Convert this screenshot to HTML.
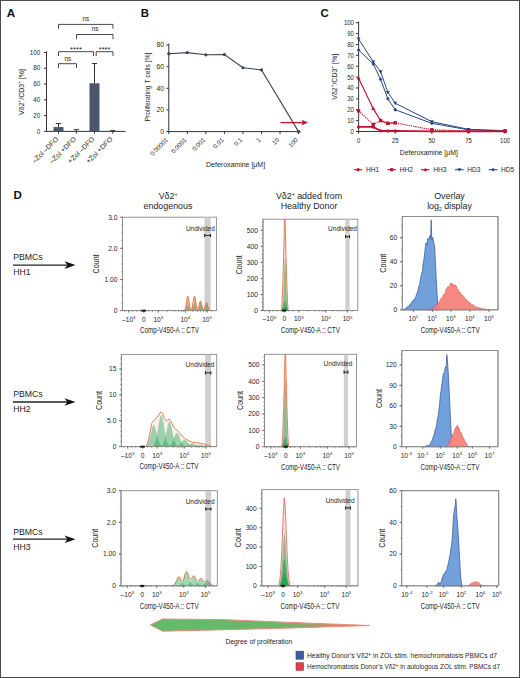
<!DOCTYPE html>
<html><head><meta charset="utf-8"><style>
html,body{margin:0;padding:0;background:#fff;}
svg{display:block;font-family:"Liberation Sans", sans-serif;}
</style></head><body>
<svg width="520" height="678" viewBox="0 0 520 678">
<rect x="0" y="0" width="520" height="678" fill="#fff"/>
<text x="6.7" y="16.6" font-size="11.6" text-anchor="start" fill="#111" font-weight="bold" >A</text>
<line x1="46.5" y1="51.5" x2="46.5" y2="131.9" stroke="#333" stroke-width="1" />
<line x1="46" y1="131.4" x2="125.5" y2="131.4" stroke="#333" stroke-width="1" />
<line x1="44" y1="131.4" x2="46.5" y2="131.4" stroke="#333" stroke-width="1" />
<text x="40.3" y="133.6" font-size="6.3" text-anchor="end" fill="#252525" font-weight="normal" >0</text>
<line x1="44" y1="115.62" x2="46.5" y2="115.62" stroke="#333" stroke-width="1" />
<text x="40.3" y="117.82" font-size="6.3" text-anchor="end" fill="#252525" font-weight="normal" >20</text>
<line x1="44" y1="99.84" x2="46.5" y2="99.84" stroke="#333" stroke-width="1" />
<text x="40.3" y="102.04" font-size="6.3" text-anchor="end" fill="#252525" font-weight="normal" >40</text>
<line x1="44" y1="84.06" x2="46.5" y2="84.06" stroke="#333" stroke-width="1" />
<text x="40.3" y="86.26" font-size="6.3" text-anchor="end" fill="#252525" font-weight="normal" >60</text>
<line x1="44" y1="68.28" x2="46.5" y2="68.28" stroke="#333" stroke-width="1" />
<text x="40.3" y="70.48" font-size="6.3" text-anchor="end" fill="#252525" font-weight="normal" >80</text>
<line x1="44" y1="52.5" x2="46.5" y2="52.5" stroke="#333" stroke-width="1" />
<text x="40.3" y="54.7" font-size="6.3" text-anchor="end" fill="#252525" font-weight="normal" >100</text>
<rect x="53.5" y="127.06" width="10" height="4.34" fill="#4a5669"/>
<line x1="58.5" y1="127.06" x2="58.5" y2="123.51" stroke="#2a3345" stroke-width="1" />
<line x1="55.9" y1="123.51" x2="61.1" y2="123.51" stroke="#2a3345" stroke-width="1" />
<line x1="58.5" y1="131.4" x2="58.5" y2="133.7" stroke="#333" stroke-width="1" />
<rect x="71.3" y="130.93" width="10" height="0.47" fill="#4a5669"/>
<line x1="76.3" y1="130.93" x2="76.3" y2="129.66" stroke="#2a3345" stroke-width="1" />
<line x1="73.7" y1="129.66" x2="78.9" y2="129.66" stroke="#2a3345" stroke-width="1" />
<line x1="76.3" y1="131.4" x2="76.3" y2="133.7" stroke="#333" stroke-width="1" />
<rect x="89.5" y="83.27" width="10" height="48.13" fill="#4a5669"/>
<line x1="94.5" y1="83.27" x2="94.5" y2="63.55" stroke="#2a3345" stroke-width="1" />
<line x1="91.9" y1="63.55" x2="97.1" y2="63.55" stroke="#2a3345" stroke-width="1" />
<line x1="94.5" y1="131.4" x2="94.5" y2="133.7" stroke="#333" stroke-width="1" />
<rect x="107.8" y="131.16" width="10" height="0.24" fill="#4a5669"/>
<line x1="112.8" y1="131.16" x2="112.8" y2="130.61" stroke="#2a3345" stroke-width="1" />
<line x1="110.2" y1="130.61" x2="115.4" y2="130.61" stroke="#2a3345" stroke-width="1" />
<line x1="112.8" y1="131.4" x2="112.8" y2="133.7" stroke="#333" stroke-width="1" />
<polyline points="58.5,28.7 58.5,24.4 113,24.4 113,28.7" fill="none" stroke="#333" stroke-width="0.9"/>
<text x="85.8" y="21" font-size="6.3" text-anchor="middle" fill="#252525" font-weight="normal" >ns</text>
<polyline points="76.5,39.3 76.5,34.5 113,34.5 113,39.3" fill="none" stroke="#333" stroke-width="0.9"/>
<text x="95" y="31.1" font-size="6.3" text-anchor="middle" fill="#252525" font-weight="normal" >ns</text>
<polyline points="58.5,56 58.5,51.7 93.6,51.7 93.6,56" fill="none" stroke="#333" stroke-width="0.9"/>
<text x="76" y="52.4" font-size="7.6" text-anchor="middle" fill="#252525" font-weight="normal" >****</text>
<polyline points="96.2,56 96.2,51.7 113,51.7 113,56" fill="none" stroke="#333" stroke-width="0.9"/>
<text x="104.6" y="52.4" font-size="7.6" text-anchor="middle" fill="#252525" font-weight="normal" >****</text>
<polyline points="58.5,68 58.5,63.7 76.5,63.7 76.5,68" fill="none" stroke="#333" stroke-width="0.9"/>
<text x="67.8" y="61.3" font-size="6.3" text-anchor="middle" fill="#252525" font-weight="normal" >ns</text>
<text transform="translate(23.8,92) rotate(-90)" font-size="7" text-anchor="middle" fill="#252525">Vδ2<tspan font-size="4.5" dy="-2.5">+</tspan><tspan dy="2.5">/CD3</tspan><tspan font-size="4.5" dy="-2.5">+</tspan><tspan dy="2.5"> [%]</tspan></text>
<text transform="translate(58.9,139.6) rotate(-45)" font-size="7.0" text-anchor="end" fill="#252525">–Zol –DFO</text>
<text transform="translate(76.7,139.6) rotate(-45)" font-size="7.0" text-anchor="end" fill="#252525">–Zol +DFO</text>
<text transform="translate(94.9,139.6) rotate(-45)" font-size="7.0" text-anchor="end" fill="#252525">+Zol –DFO</text>
<text transform="translate(113.2,139.6) rotate(-45)" font-size="7.0" text-anchor="end" fill="#252525">+Zol +DFO</text>
<text x="140.8" y="16.8" font-size="11.4" text-anchor="start" fill="#111" font-weight="bold" >B</text>
<line x1="168.8" y1="43.5" x2="168.8" y2="132.1" stroke="#333" stroke-width="1" />
<line x1="168.3" y1="131.6" x2="300.6" y2="131.6" stroke="#333" stroke-width="1" />
<line x1="166.3" y1="131.6" x2="168.8" y2="131.6" stroke="#333" stroke-width="1" />
<text x="164" y="133.9" font-size="6.8" text-anchor="end" fill="#252525" font-weight="normal" >0</text>
<line x1="166.3" y1="109.96" x2="168.8" y2="109.96" stroke="#333" stroke-width="1" />
<text x="164" y="112.26" font-size="6.8" text-anchor="end" fill="#252525" font-weight="normal" >20</text>
<line x1="166.3" y1="88.32" x2="168.8" y2="88.32" stroke="#333" stroke-width="1" />
<text x="164" y="90.62" font-size="6.8" text-anchor="end" fill="#252525" font-weight="normal" >40</text>
<line x1="166.3" y1="66.68" x2="168.8" y2="66.68" stroke="#333" stroke-width="1" />
<text x="164" y="68.98" font-size="6.8" text-anchor="end" fill="#252525" font-weight="normal" >60</text>
<line x1="166.3" y1="45.04" x2="168.8" y2="45.04" stroke="#333" stroke-width="1" />
<text x="164" y="47.34" font-size="6.8" text-anchor="end" fill="#252525" font-weight="normal" >80</text>
<line x1="168.8" y1="131.6" x2="168.8" y2="134.1" stroke="#333" stroke-width="1" />
<line x1="187.34" y1="131.6" x2="187.34" y2="134.1" stroke="#333" stroke-width="1" />
<line x1="205.88" y1="131.6" x2="205.88" y2="134.1" stroke="#333" stroke-width="1" />
<line x1="224.42" y1="131.6" x2="224.42" y2="134.1" stroke="#333" stroke-width="1" />
<line x1="242.96" y1="131.6" x2="242.96" y2="134.1" stroke="#333" stroke-width="1" />
<line x1="261.5" y1="131.6" x2="261.5" y2="134.1" stroke="#333" stroke-width="1" />
<line x1="280.04" y1="131.6" x2="280.04" y2="134.1" stroke="#333" stroke-width="1" />
<line x1="298.58" y1="131.6" x2="298.58" y2="134.1" stroke="#333" stroke-width="1" />
<text transform="translate(168.5,140.4) rotate(-45)" font-size="6.2" text-anchor="end" fill="#252525">0.00001</text>
<text transform="translate(187.04,140.4) rotate(-45)" font-size="6.2" text-anchor="end" fill="#252525">0.0001</text>
<text transform="translate(205.58,140.4) rotate(-45)" font-size="6.2" text-anchor="end" fill="#252525">0.001</text>
<text transform="translate(224.12,140.4) rotate(-45)" font-size="6.2" text-anchor="end" fill="#252525">0.01</text>
<text transform="translate(242.66,140.4) rotate(-45)" font-size="6.2" text-anchor="end" fill="#252525">0.1</text>
<text transform="translate(261.2,140.4) rotate(-45)" font-size="6.2" text-anchor="end" fill="#252525">1</text>
<text transform="translate(279.74,140.4) rotate(-45)" font-size="6.2" text-anchor="end" fill="#252525">10</text>
<text transform="translate(298.28,140.4) rotate(-45)" font-size="6.2" text-anchor="end" fill="#252525">100</text>
<polyline points="168.8,53.7 187.34,52.61 205.88,54.78 224.42,54.56 242.96,67.76 261.5,69.93 298.58,131.6" fill="none" stroke="#3a4455" stroke-width="1.1"/>
<circle cx="168.8" cy="53.7" r="1.6" fill="#3a4455"/>
<circle cx="187.34" cy="52.61" r="1.6" fill="#3a4455"/>
<circle cx="205.88" cy="54.78" r="1.6" fill="#3a4455"/>
<circle cx="224.42" cy="54.56" r="1.6" fill="#3a4455"/>
<circle cx="242.96" cy="67.76" r="1.6" fill="#3a4455"/>
<circle cx="261.5" cy="69.93" r="1.6" fill="#3a4455"/>
<circle cx="298.58" cy="131.6" r="1.6" fill="#3a4455"/>
<line x1="280.5" y1="122.6" x2="303.5" y2="122.6" stroke="#c0162c" stroke-width="1.3" />
<polygon points="308,122.6 301.5,119.8 303,122.6 301.5,125.4" fill="#c0162c"/>
<text x="235.6" y="167" font-size="7" text-anchor="middle" fill="#252525" textLength="59" lengthAdjust="spacingAndGlyphs">Deferoxamine [μM]</text>
<text transform="translate(149.5,87) rotate(-90)" font-size="6.4" text-anchor="middle" fill="#252525" textLength="69" lengthAdjust="spacingAndGlyphs">Proliferating T cells [%]</text>
<text x="320.4" y="16.9" font-size="11.4" text-anchor="start" fill="#111" font-weight="bold" >C</text>
<line x1="358.6" y1="21.5" x2="358.6" y2="132" stroke="#4a4a4a" stroke-width="1.1" />
<line x1="358.1" y1="131.5" x2="505.8" y2="131.5" stroke="#3a3a3a" stroke-width="1.2" />
<line x1="356" y1="131.5" x2="358.6" y2="131.5" stroke="#333" stroke-width="1" />
<text x="353.8" y="133.9" font-size="6.9" text-anchor="end" fill="#252525" textLength="3.3" lengthAdjust="spacingAndGlyphs">0</text>
<line x1="356" y1="120.62" x2="358.6" y2="120.62" stroke="#333" stroke-width="1" />
<text x="353.8" y="123.02" font-size="6.9" text-anchor="end" fill="#252525" textLength="6.6" lengthAdjust="spacingAndGlyphs">10</text>
<line x1="356" y1="109.74" x2="358.6" y2="109.74" stroke="#333" stroke-width="1" />
<text x="353.8" y="112.14" font-size="6.9" text-anchor="end" fill="#252525" textLength="6.6" lengthAdjust="spacingAndGlyphs">20</text>
<line x1="356" y1="98.86" x2="358.6" y2="98.86" stroke="#333" stroke-width="1" />
<text x="353.8" y="101.26" font-size="6.9" text-anchor="end" fill="#252525" textLength="6.6" lengthAdjust="spacingAndGlyphs">30</text>
<line x1="356" y1="87.98" x2="358.6" y2="87.98" stroke="#333" stroke-width="1" />
<text x="353.8" y="90.38" font-size="6.9" text-anchor="end" fill="#252525" textLength="6.6" lengthAdjust="spacingAndGlyphs">40</text>
<line x1="356" y1="77.1" x2="358.6" y2="77.1" stroke="#333" stroke-width="1" />
<text x="353.8" y="79.5" font-size="6.9" text-anchor="end" fill="#252525" textLength="6.6" lengthAdjust="spacingAndGlyphs">50</text>
<line x1="356" y1="66.22" x2="358.6" y2="66.22" stroke="#333" stroke-width="1" />
<text x="353.8" y="68.62" font-size="6.9" text-anchor="end" fill="#252525" textLength="6.6" lengthAdjust="spacingAndGlyphs">60</text>
<line x1="356" y1="55.34" x2="358.6" y2="55.34" stroke="#333" stroke-width="1" />
<text x="353.8" y="57.74" font-size="6.9" text-anchor="end" fill="#252525" textLength="6.6" lengthAdjust="spacingAndGlyphs">70</text>
<line x1="356" y1="44.46" x2="358.6" y2="44.46" stroke="#333" stroke-width="1" />
<text x="353.8" y="46.86" font-size="6.9" text-anchor="end" fill="#252525" textLength="6.6" lengthAdjust="spacingAndGlyphs">80</text>
<line x1="356" y1="33.58" x2="358.6" y2="33.58" stroke="#333" stroke-width="1" />
<text x="353.8" y="35.98" font-size="6.9" text-anchor="end" fill="#252525" textLength="6.6" lengthAdjust="spacingAndGlyphs">90</text>
<line x1="356" y1="22.7" x2="358.6" y2="22.7" stroke="#333" stroke-width="1" />
<text x="353.8" y="25.1" font-size="6.9" text-anchor="end" fill="#252525" textLength="9.9" lengthAdjust="spacingAndGlyphs">100</text>
<line x1="358.6" y1="131.5" x2="358.6" y2="133.7" stroke="#333" stroke-width="1" />
<text x="358.6" y="143.4" font-size="6.9" text-anchor="middle" fill="#252525" textLength="3.3" lengthAdjust="spacingAndGlyphs">0</text>
<line x1="395.21" y1="131.5" x2="395.21" y2="133.7" stroke="#333" stroke-width="1" />
<text x="395.21" y="143.4" font-size="6.9" text-anchor="middle" fill="#252525" textLength="6.6" lengthAdjust="spacingAndGlyphs">25</text>
<line x1="431.83" y1="131.5" x2="431.83" y2="133.7" stroke="#333" stroke-width="1" />
<text x="431.83" y="143.4" font-size="6.9" text-anchor="middle" fill="#252525" textLength="6.6" lengthAdjust="spacingAndGlyphs">50</text>
<line x1="468.44" y1="131.5" x2="468.44" y2="133.7" stroke="#333" stroke-width="1" />
<text x="468.44" y="143.4" font-size="6.9" text-anchor="middle" fill="#252525" textLength="6.6" lengthAdjust="spacingAndGlyphs">75</text>
<line x1="505.05" y1="131.5" x2="505.05" y2="133.7" stroke="#333" stroke-width="1" />
<text x="505.05" y="143.4" font-size="6.9" text-anchor="middle" fill="#252525" textLength="9.9" lengthAdjust="spacingAndGlyphs">100</text>
<text x="428.8" y="155" font-size="7" text-anchor="middle" fill="#252525" textLength="58" lengthAdjust="spacingAndGlyphs">Deferoxamine [μM]</text>
<text transform="translate(336.8,76.8) rotate(-90)" font-size="7" text-anchor="middle" fill="#252525" textLength="46" lengthAdjust="spacingAndGlyphs">Vδ2<tspan font-size="4.5" dy="-2.5">+</tspan><tspan dy="2.5">/CD3</tspan><tspan font-size="4.5" dy="-2.5">+</tspan><tspan dy="2.5"> [%]</tspan></text>
<polyline points="358.6,39.02 373.25,61.87 380.57,71.66 387.89,92.33 395.21,103.21 431.83,121.71 468.44,129.32 505.05,130.63" fill="none" stroke="#27497e" stroke-width="1.0" />
<polygon points="358.6,41.12 360.6,37.62 356.6,37.62" fill="#27497e"/>
<polygon points="373.25,63.97 375.25,60.47 371.25,60.47" fill="#27497e"/>
<polygon points="380.57,73.76 382.57,70.26 378.57,70.26" fill="#27497e"/>
<polygon points="387.89,94.43 389.89,90.93 385.89,90.93" fill="#27497e"/>
<polygon points="395.21,105.31 397.21,101.81 393.21,101.81" fill="#27497e"/>
<polygon points="431.83,123.81 433.83,120.31 429.83,120.31" fill="#27497e"/>
<polygon points="468.44,131.42 470.44,127.92 466.44,127.92" fill="#27497e"/>
<polygon points="505.05,132.73 507.05,129.23 503.05,129.23" fill="#27497e"/>
<polyline points="358.6,49.9 373.25,64.04 380.57,79.28 387.89,98.86 395.21,109.74 431.83,123.34 468.44,129.87 505.05,130.96" fill="none" stroke="#27497e" stroke-width="1.0" />
<polygon points="358.6,47.9 360.4,49.9 358.6,51.9 356.8,49.9" fill="#27497e"/>
<polygon points="373.25,62.04 375.05,64.04 373.25,66.04 371.44,64.04" fill="#27497e"/>
<polygon points="380.57,77.28 382.37,79.28 380.57,81.28 378.77,79.28" fill="#27497e"/>
<polygon points="387.89,96.86 389.69,98.86 387.89,100.86 386.09,98.86" fill="#27497e"/>
<polygon points="395.21,107.74 397.01,109.74 395.21,111.74 393.41,109.74" fill="#27497e"/>
<polygon points="431.83,121.34 433.63,123.34 431.83,125.34 430.03,123.34" fill="#27497e"/>
<polygon points="468.44,127.87 470.24,129.87 468.44,131.87 466.64,129.87" fill="#27497e"/>
<polygon points="505.05,128.96 506.85,130.96 505.05,132.96 503.25,130.96" fill="#27497e"/>
<polyline points="358.6,78.19 373.25,108.65 380.57,120.62 387.89,123.34 395.21,122.8" fill="none" stroke="#c41230" stroke-width="1.15" />
<polygon points="358.6,76.09 360.6,79.59 356.6,79.59" fill="#c41230"/>
<polygon points="373.25,106.55 375.25,110.05 371.25,110.05" fill="#c41230"/>
<polygon points="380.57,118.52 382.57,122.02 378.57,122.02" fill="#c41230"/>
<polygon points="387.89,121.24 389.89,124.74 385.89,124.74" fill="#c41230"/>
<polygon points="395.21,120.7 397.21,124.2 393.21,124.2" fill="#c41230"/>
<polyline points="358.6,110.83 373.25,124.43 380.57,120.62 387.89,123.34 395.21,122.8 431.83,129.76 468.44,130.96 505.05,131.28" fill="none" stroke="#c41230" stroke-width="1.15" stroke-dasharray="1.3,0.9"/>
<rect x="356.9" y="109.13" width="3.4" height="3.4" fill="#c41230"/>
<rect x="371.55" y="122.73" width="3.4" height="3.4" fill="#c41230"/>
<rect x="378.87" y="118.92" width="3.4" height="3.4" fill="#c41230"/>
<rect x="386.19" y="121.64" width="3.4" height="3.4" fill="#c41230"/>
<rect x="393.51" y="121.1" width="3.4" height="3.4" fill="#c41230"/>
<rect x="430.13" y="128.06" width="3.4" height="3.4" fill="#c41230"/>
<rect x="466.74" y="129.26" width="3.4" height="3.4" fill="#c41230"/>
<rect x="503.35" y="129.58" width="3.4" height="3.4" fill="#c41230"/>
<polyline points="358.6,126.93 373.25,126.93 380.57,130.85 387.89,130.96 395.21,130.96 431.83,131.28 468.44,131.39 505.05,131.39" fill="none" stroke="#c41230" stroke-width="1.7" />
<circle cx="358.6" cy="126.93" r="1.7" fill="#c41230"/>
<circle cx="373.25" cy="126.93" r="1.7" fill="#c41230"/>
<circle cx="380.57" cy="130.85" r="1.7" fill="#c41230"/>
<circle cx="387.89" cy="130.96" r="1.7" fill="#c41230"/>
<circle cx="395.21" cy="130.96" r="1.7" fill="#c41230"/>
<circle cx="431.83" cy="131.28" r="1.7" fill="#c41230"/>
<circle cx="468.44" cy="131.39" r="1.7" fill="#c41230"/>
<circle cx="505.05" cy="131.39" r="1.7" fill="#c41230"/>
<line x1="353.8" y1="169.7" x2="362.4" y2="169.7" stroke="#c41230" stroke-width="1.1" />
<circle cx="358.1" cy="169.7" r="1.61" fill="#c41230"/>
<text x="366.1" y="172" font-size="6.6" text-anchor="start" fill="#252525" font-weight="normal" >HH1</text>
<line x1="387.4" y1="169.7" x2="396" y2="169.7" stroke="#c41230" stroke-width="1.1" />
<rect x="390.08" y="168.08" width="3.23" height="3.23" fill="#c41230"/>
<text x="399.7" y="172" font-size="6.6" text-anchor="start" fill="#252525" font-weight="normal" >HH2</text>
<line x1="421" y1="169.7" x2="429.6" y2="169.7" stroke="#c41230" stroke-width="1.1" />
<polygon points="425.3,167.7 427.2,171.03 423.4,171.03" fill="#c41230"/>
<text x="433.3" y="172" font-size="6.6" text-anchor="start" fill="#252525" font-weight="normal" >HH3</text>
<line x1="455" y1="169.7" x2="463.6" y2="169.7" stroke="#27497e" stroke-width="1.1" />
<polygon points="459.3,171.69 461.2,168.37 457.4,168.37" fill="#27497e"/>
<text x="467.3" y="172" font-size="6.6" text-anchor="start" fill="#252525" font-weight="normal" >HD3</text>
<line x1="488.8" y1="169.7" x2="497.4" y2="169.7" stroke="#27497e" stroke-width="1.1" />
<polygon points="493.1,167.8 494.81,169.7 493.1,171.6 491.39,169.7" fill="#27497e"/>
<text x="501.1" y="172" font-size="6.6" text-anchor="start" fill="#252525" font-weight="normal" >HD5</text>
<text x="13.5" y="199.3" font-size="11.6" text-anchor="start" fill="#111" font-weight="bold" >D</text>
<text x="168" y="198.6" font-size="8.9" text-anchor="middle" fill="#252525">Vδ2<tspan font-size="5" dy="-3">+</tspan></text>
<text x="168" y="209.3" font-size="8.9" text-anchor="middle" fill="#252525">endogenous</text>
<text x="309" y="198.6" font-size="8.9" text-anchor="middle" fill="#252525">Vδ2<tspan font-size="5" dy="-3">+</tspan><tspan dy="3"> added from</tspan></text>
<text x="309" y="209.3" font-size="8.9" text-anchor="middle" fill="#252525">Healthy Donor</text>
<text x="449.5" y="198.6" font-size="8.9" text-anchor="middle" fill="#252525">Overlay</text>
<text x="449.5" y="209.3" font-size="8.9" text-anchor="middle" fill="#252525">log<tspan font-size="5" dy="2">2</tspan><tspan dy="-2"> display</tspan></text>
<text x="13.2" y="259.9" font-size="8.7" fill="#252525">PBMCs</text>
<text x="13.2" y="275" font-size="8.7" fill="#252525">HH1</text>
<line x1="13" y1="265.1" x2="68" y2="265.1" stroke="#222" stroke-width="1.3" />
<polygon points="75.5,265.1 64.5,261.3 67.5,265.1 64.5,268.9" fill="#111"/>
<text x="13.2" y="396.8" font-size="8.7" fill="#252525">PBMCs</text>
<text x="13.2" y="412" font-size="8.7" fill="#252525">HH2</text>
<line x1="13" y1="402" x2="68" y2="402" stroke="#222" stroke-width="1.3" />
<polygon points="75.5,402 64.5,398.2 67.5,402 64.5,405.8" fill="#111"/>
<text x="13.2" y="534.6" font-size="8.7" fill="#252525">PBMCs</text>
<text x="13.2" y="549.6" font-size="8.7" fill="#252525">HH3</text>
<line x1="13" y1="539.2" x2="68" y2="539.2" stroke="#222" stroke-width="1.3" />
<polygon points="75.5,539.2 64.5,535.4 67.5,539.2 64.5,543" fill="#111"/>
<rect x="122.5" y="217.2" width="93.9" height="93.4" fill="#fff" stroke="#8a8a8a" stroke-width="0.9"/>
<rect x="204.5" y="217.65" width="6.2" height="92.5" fill="#cfcfcf"/>
<path d="M183.4,310.6 L183.4,310.55 L183.7,310.5 L184,310.4 L184.3,310.22 L184.6,309.9 L184.9,309.4 L185.2,308.65 L185.5,307.59 L185.8,306.19 L186.1,304.48 L186.4,302.54 L186.7,300.53 L187,298.68 L187.3,297.23 L187.6,296.37 L187.9,296.24 L188.2,296.87 L188.5,298.14 L188.8,299.89 L189.1,301.86 L189.4,303.84 L189.7,305.64 L190,307.12 L190.3,308.26 L190.6,309.02 L190.9,309.45 L191.2,309.55 L191.5,309.34 L191.8,308.8 L192.1,307.9 L192.4,306.64 L192.7,305.03 L193,303.14 L193.3,301.13 L193.6,299.19 L193.9,297.56 L194.2,296.48 L194.5,296.1 L194.8,296.48 L195.1,297.56 L195.4,299.19 L195.7,301.12 L196,303.12 L196.3,304.99 L196.6,306.56 L196.9,307.75 L197.2,308.54 L197.5,308.92 L197.8,308.91 L198.1,308.54 L198.4,307.83 L198.7,306.84 L199,305.63 L199.3,304.31 L199.6,303.04 L199.9,301.97 L200.2,301.25 L200.5,301 L200.8,301.25 L201.1,301.97 L201.4,303.04 L201.7,304.32 L202,305.65 L202.3,306.89 L202.6,307.93 L202.9,308.72 L203.2,309.23 L203.5,309.47 L203.8,309.44 L204.1,309.15 L204.4,308.61 L204.7,307.83 L205,306.87 L205.3,305.8 L205.6,304.72 L205.9,303.76 L206.2,303.06 L206.5,302.72 L206.8,302.79 L207.1,303.26 L207.4,304.06 L207.7,305.08 L208,306.18 L208.3,307.24 L208.6,308.18 L208.9,308.95 L209.2,309.53 L209.5,309.94 L209.8,310.22 L210.1,310.39 L210.4,310.49 L210.7,310.55 L211,310.57 L211,310.6 Z" fill="#eba48a" fill-opacity="0.85"/>
<path d="M183.3,310.6 L183.3,310.59 L183.65,310.58 L184,310.55 L184.35,310.48 L184.7,310.35 L185.05,310.11 L185.4,309.73 L185.75,309.17 L186.1,308.42 L186.45,307.53 L186.8,306.61 L187.15,305.8 L187.5,305.26 L187.85,305.1 L188.2,305.37 L188.55,306.01 L188.9,306.87 L189.25,307.79 L189.6,308.65 L189.95,309.35 L190.3,309.86 L190.65,310.19 L191,310.39 L191.35,310.5 L191.7,310.56 L192.05,310.58 L192.05,310.6 Z" fill="#00973c" fill-opacity="0.37"/>
<path d="M190,310.6 L190,310.59 L190.35,310.57 L190.7,310.53 L191.05,310.44 L191.4,310.28 L191.75,309.98 L192.1,309.49 L192.45,308.78 L192.8,307.82 L193.15,306.69 L193.5,305.52 L193.85,304.49 L194.2,303.8 L194.55,303.61 L194.9,303.95 L195.25,304.75 L195.6,305.85 L195.95,307.03 L196.3,308.12 L196.65,309.01 L197,309.65 L197.35,310.08 L197.7,310.34 L198.05,310.48 L198.4,310.55 L198.75,310.58 L198.75,310.6 Z" fill="#00973c" fill-opacity="0.37"/>
<path d="M196,310.6 L196,310.59 L196.35,310.57 L196.7,310.54 L197.05,310.46 L197.4,310.3 L197.75,310.02 L198.1,309.57 L198.45,308.91 L198.8,308.02 L199.15,306.97 L199.5,305.88 L199.85,304.92 L200.2,304.28 L200.55,304.11 L200.9,304.42 L201.25,305.17 L201.6,306.19 L201.95,307.28 L202.3,308.3 L202.65,309.12 L203,309.72 L203.35,310.12 L203.7,310.35 L204.05,310.48 L204.4,310.55 L204.75,310.58 L204.75,310.6 Z" fill="#00973c" fill-opacity="0.37"/>
<path d="M202.1,310.6 L202.1,310.59 L202.45,310.58 L202.8,310.54 L203.15,310.47 L203.5,310.33 L203.85,310.08 L204.2,309.68 L204.55,309.09 L204.9,308.3 L205.25,307.36 L205.6,306.39 L205.95,305.53 L206.3,304.96 L206.65,304.8 L207,305.09 L207.35,305.76 L207.7,306.66 L208.05,307.64 L208.4,308.54 L208.75,309.28 L209.1,309.82 L209.45,310.17 L209.8,310.38 L210.15,310.5 L210.5,310.56 L210.85,310.58 L210.85,310.6 Z" fill="#00973c" fill-opacity="0.37"/>
<path d="M183.4,310.55 L183.7,310.5 L184,310.4 L184.3,310.22 L184.6,309.9 L184.9,309.4 L185.2,308.65 L185.5,307.59 L185.8,306.19 L186.1,304.48 L186.4,302.54 L186.7,300.53 L187,298.68 L187.3,297.23 L187.6,296.37 L187.9,296.24 L188.2,296.87 L188.5,298.14 L188.8,299.89 L189.1,301.86 L189.4,303.84 L189.7,305.64 L190,307.12 L190.3,308.26 L190.6,309.02 L190.9,309.45 L191.2,309.55 L191.5,309.34 L191.8,308.8 L192.1,307.9 L192.4,306.64 L192.7,305.03 L193,303.14 L193.3,301.13 L193.6,299.19 L193.9,297.56 L194.2,296.48 L194.5,296.1 L194.8,296.48 L195.1,297.56 L195.4,299.19 L195.7,301.12 L196,303.12 L196.3,304.99 L196.6,306.56 L196.9,307.75 L197.2,308.54 L197.5,308.92 L197.8,308.91 L198.1,308.54 L198.4,307.83 L198.7,306.84 L199,305.63 L199.3,304.31 L199.6,303.04 L199.9,301.97 L200.2,301.25 L200.5,301 L200.8,301.25 L201.1,301.97 L201.4,303.04 L201.7,304.32 L202,305.65 L202.3,306.89 L202.6,307.93 L202.9,308.72 L203.2,309.23 L203.5,309.47 L203.8,309.44 L204.1,309.15 L204.4,308.61 L204.7,307.83 L205,306.87 L205.3,305.8 L205.6,304.72 L205.9,303.76 L206.2,303.06 L206.5,302.72 L206.8,302.79 L207.1,303.26 L207.4,304.06 L207.7,305.08 L208,306.18 L208.3,307.24 L208.6,308.18 L208.9,308.95 L209.2,309.53 L209.5,309.94 L209.8,310.22 L210.1,310.39 L210.4,310.49 L210.7,310.55 L211,310.57" fill="none" stroke="#e2673f" stroke-width="0.85"/>
<line x1="122.5" y1="217.2" x2="122.5" y2="311" stroke="#8c8c8c" stroke-width="0.9" />
<line x1="122.1" y1="310.6" x2="216.4" y2="310.6" stroke="#8c8c8c" stroke-width="0.9" />
<line x1="120.2" y1="310.6" x2="122.5" y2="310.6" stroke="#555" stroke-width="0.9" />
<text x="117.5" y="312.9" font-size="6.7" text-anchor="end" fill="#252525" font-weight="normal" >0</text>
<line x1="120.2" y1="279.47" x2="122.5" y2="279.47" stroke="#555" stroke-width="0.9" />
<text x="117.5" y="281.77" font-size="6.7" text-anchor="end" fill="#252525" font-weight="normal" >1.00</text>
<line x1="120.2" y1="248.33" x2="122.5" y2="248.33" stroke="#555" stroke-width="0.9" />
<text x="117.5" y="250.63" font-size="6.7" text-anchor="end" fill="#252525" font-weight="normal" >2.0</text>
<line x1="120.2" y1="217.2" x2="122.5" y2="217.2" stroke="#555" stroke-width="0.9" />
<text x="117.5" y="219.5" font-size="6.7" text-anchor="end" fill="#252525" font-weight="normal" >3.0</text>
<line x1="121.2" y1="302.82" x2="122.5" y2="302.82" stroke="#777" stroke-width="0.7" />
<line x1="121.2" y1="295.03" x2="122.5" y2="295.03" stroke="#777" stroke-width="0.7" />
<line x1="121.2" y1="287.25" x2="122.5" y2="287.25" stroke="#777" stroke-width="0.7" />
<line x1="121.2" y1="279.47" x2="122.5" y2="279.47" stroke="#777" stroke-width="0.7" />
<line x1="121.2" y1="271.68" x2="122.5" y2="271.68" stroke="#777" stroke-width="0.7" />
<line x1="121.2" y1="263.9" x2="122.5" y2="263.9" stroke="#777" stroke-width="0.7" />
<line x1="121.2" y1="256.12" x2="122.5" y2="256.12" stroke="#777" stroke-width="0.7" />
<line x1="121.2" y1="248.33" x2="122.5" y2="248.33" stroke="#777" stroke-width="0.7" />
<line x1="121.2" y1="240.55" x2="122.5" y2="240.55" stroke="#777" stroke-width="0.7" />
<line x1="121.2" y1="232.77" x2="122.5" y2="232.77" stroke="#777" stroke-width="0.7" />
<line x1="121.2" y1="224.98" x2="122.5" y2="224.98" stroke="#777" stroke-width="0.7" />
<line x1="128.8" y1="310.6" x2="128.8" y2="312.6" stroke="#555" stroke-width="0.9" />
<text x="128.8" y="321.5" font-size="6.6" text-anchor="middle" fill="#252525">–10<tspan font-size="4.4" dy="-2.7">3</tspan></text>
<line x1="143.8" y1="310.6" x2="143.8" y2="312.6" stroke="#555" stroke-width="0.9" />
<text x="143.8" y="321.5" font-size="6.6" text-anchor="middle" fill="#252525">0</text>
<line x1="158.3" y1="310.6" x2="158.3" y2="312.6" stroke="#555" stroke-width="0.9" />
<text x="158.3" y="321.5" font-size="6.6" text-anchor="middle" fill="#252525">10<tspan font-size="4.4" dy="-2.7">3</tspan></text>
<line x1="185.3" y1="310.6" x2="185.3" y2="312.6" stroke="#555" stroke-width="0.9" />
<text x="185.3" y="321.5" font-size="6.6" text-anchor="middle" fill="#252525">10<tspan font-size="4.4" dy="-2.7">4</tspan></text>
<line x1="207.1" y1="310.6" x2="207.1" y2="312.6" stroke="#555" stroke-width="0.9" />
<text x="207.1" y="321.5" font-size="6.6" text-anchor="middle" fill="#252525">10<tspan font-size="4.4" dy="-2.7">5</tspan></text>
<line x1="124.5" y1="310.6" x2="124.5" y2="311.8" stroke="#777" stroke-width="0.7" />
<line x1="132.5" y1="310.6" x2="132.5" y2="311.8" stroke="#777" stroke-width="0.7" />
<line x1="136.5" y1="310.6" x2="136.5" y2="311.8" stroke="#777" stroke-width="0.7" />
<line x1="140.5" y1="310.6" x2="140.5" y2="311.8" stroke="#777" stroke-width="0.7" />
<line x1="148.5" y1="310.6" x2="148.5" y2="311.8" stroke="#777" stroke-width="0.7" />
<line x1="152.5" y1="310.6" x2="152.5" y2="311.8" stroke="#777" stroke-width="0.7" />
<line x1="167.5" y1="310.6" x2="167.5" y2="311.8" stroke="#777" stroke-width="0.7" />
<line x1="174.5" y1="310.6" x2="174.5" y2="311.8" stroke="#777" stroke-width="0.7" />
<line x1="178.5" y1="310.6" x2="178.5" y2="311.8" stroke="#777" stroke-width="0.7" />
<line x1="181.5" y1="310.6" x2="181.5" y2="311.8" stroke="#777" stroke-width="0.7" />
<line x1="183.5" y1="310.6" x2="183.5" y2="311.8" stroke="#777" stroke-width="0.7" />
<line x1="192.5" y1="310.6" x2="192.5" y2="311.8" stroke="#777" stroke-width="0.7" />
<line x1="197.5" y1="310.6" x2="197.5" y2="311.8" stroke="#777" stroke-width="0.7" />
<line x1="200.5" y1="310.6" x2="200.5" y2="311.8" stroke="#777" stroke-width="0.7" />
<line x1="203.5" y1="310.6" x2="203.5" y2="311.8" stroke="#777" stroke-width="0.7" />
<line x1="206" y1="310.6" x2="206" y2="311.8" stroke="#777" stroke-width="0.7" />
<line x1="211.5" y1="310.6" x2="211.5" y2="311.8" stroke="#777" stroke-width="0.7" />
<text x="169.45" y="333.4" font-size="8.2" text-anchor="middle" fill="#252525" textLength="59" lengthAdjust="spacingAndGlyphs">Comp-V450-A :: CTV</text>
<text transform="translate(99.3,263.9) rotate(-90)" font-size="8.3" text-anchor="middle" fill="#252525" textLength="19" lengthAdjust="spacingAndGlyphs">Count</text>
<text x="214.8" y="230.5" font-size="6.5" text-anchor="end" fill="#252525">Undivided</text>
<line x1="204.7" y1="235.4" x2="210.5" y2="235.4" stroke="#222" stroke-width="1.0" />
<line x1="204.7" y1="233.8" x2="204.7" y2="237" stroke="#222" stroke-width="1.1" />
<line x1="210.5" y1="233.8" x2="210.5" y2="237" stroke="#222" stroke-width="1.1" />
<rect x="141.5" y="309.7" width="4.4" height="1.9" fill="#111"/>
<rect x="121.4" y="354.4" width="95.3" height="92.2" fill="#fff" stroke="#8a8a8a" stroke-width="0.9"/>
<rect x="205.2" y="354.85" width="5.8" height="91.3" fill="#cfcfcf"/>
<path d="M146.2,446.5 L148.5,440 L150.5,430 L151.6,423.5 L153.5,420.8 L155.4,419.2 L158,416 L160,412.8 L161.4,412.2 L163,414 L164.5,418.5 L166.2,421.2 L167.6,420 L169.2,419.2 L171,421.5 L173,426 L175.4,429.2 L177.7,430.5 L180,433.5 L182,436 L184.6,438.3 L188,440.5 L192.3,442.2 L196,442.6 L200,443.2 L204,444.2 L207.7,445.3 L210,446 L212.3,446.5 Z" fill="#f9e0d4" fill-opacity="0.45" stroke="none"/>
<path d="M143,446.6 L143,446.57 L143.35,446.55 L143.7,446.53 L144.05,446.49 L144.4,446.44 L144.75,446.37 L145.1,446.28 L145.45,446.15 L145.8,445.99 L146.15,445.77 L146.5,445.49 L146.85,445.13 L147.2,444.69 L147.55,444.15 L147.9,443.49 L148.25,442.72 L148.6,441.81 L148.95,440.78 L149.3,439.62 L149.65,438.34 L150,436.96 L150.35,435.5 L150.7,433.99 L151.05,432.48 L151.4,430.99 L151.75,429.58 L152.1,428.29 L152.45,427.17 L152.8,426.26 L153.15,425.6 L153.5,425.21 L153.85,425.1 L154.2,425.29 L154.55,425.76 L154.9,426.5 L155.25,427.47 L155.6,428.64 L155.95,429.97 L156.3,431.41 L156.65,432.91 L157,434.43 L157.35,435.92 L157.7,437.36 L158.05,438.72 L158.4,439.96 L158.75,441.09 L159.1,442.08 L159.45,442.95 L159.8,443.69 L160.15,444.31 L160.5,444.82 L160.85,445.24 L161.2,445.57 L161.55,445.84 L161.9,446.04 L162.25,446.19 L162.6,446.31 L162.95,446.39 L163.3,446.46 L163.65,446.5 L164,446.53 L164.35,446.56 L164.35,446.6 Z" fill="#00973c" fill-opacity="0.37"/>
<path d="M150.4,446.6 L150.4,446.55 L150.75,446.53 L151.1,446.49 L151.45,446.44 L151.8,446.37 L152.15,446.27 L152.5,446.13 L152.85,445.95 L153.2,445.7 L153.55,445.38 L153.9,444.97 L154.25,444.45 L154.6,443.8 L154.95,443 L155.3,442.05 L155.65,440.91 L156,439.59 L156.35,438.07 L156.7,436.37 L157.05,434.5 L157.4,432.48 L157.75,430.34 L158.1,428.13 L158.45,425.91 L158.8,423.73 L159.15,421.66 L159.5,419.77 L159.85,418.13 L160.2,416.8 L160.55,415.83 L160.9,415.26 L161.25,415.1 L161.6,415.38 L161.95,416.07 L162.3,417.15 L162.65,418.57 L163,420.29 L163.35,422.23 L163.7,424.34 L164.05,426.54 L164.4,428.77 L164.75,430.96 L165.1,433.07 L165.45,435.05 L165.8,436.88 L166.15,438.53 L166.5,439.98 L166.85,441.25 L167.2,442.34 L167.55,443.25 L167.9,444 L168.25,444.61 L168.6,445.1 L168.95,445.48 L169.3,445.78 L169.65,446 L170,446.17 L170.35,446.3 L170.7,446.39 L171.05,446.46 L171.4,446.5 L171.75,446.54 L171.75,446.6 Z" fill="#00973c" fill-opacity="0.37"/>
<path d="M158.6,446.6 L158.6,446.56 L158.95,446.54 L159.3,446.51 L159.65,446.47 L160,446.42 L160.35,446.34 L160.7,446.23 L161.05,446.08 L161.4,445.89 L161.75,445.63 L162.1,445.31 L162.45,444.89 L162.8,444.38 L163.15,443.75 L163.5,442.99 L163.85,442.08 L164.2,441.03 L164.55,439.83 L164.9,438.48 L165.25,437 L165.6,435.39 L165.95,433.69 L166.3,431.94 L166.65,430.18 L167,428.45 L167.35,426.81 L167.7,425.31 L168.05,424.01 L168.4,422.95 L168.75,422.18 L169.1,421.72 L169.45,421.6 L169.8,421.82 L170.15,422.37 L170.5,423.23 L170.85,424.36 L171.2,425.72 L171.55,427.26 L171.9,428.93 L172.25,430.68 L172.6,432.45 L172.95,434.19 L173.3,435.86 L173.65,437.43 L174,438.88 L174.35,440.19 L174.7,441.35 L175.05,442.36 L175.4,443.22 L175.75,443.94 L176.1,444.54 L176.45,445.02 L176.8,445.41 L177.15,445.71 L177.5,445.95 L177.85,446.13 L178.2,446.26 L178.55,446.36 L178.9,446.43 L179.25,446.49 L179.6,446.52 L179.95,446.55 L179.95,446.6 Z" fill="#00973c" fill-opacity="0.37"/>
<path d="M165.84,446.6 L165.84,446.58 L166.19,446.57 L166.54,446.55 L166.89,446.53 L167.24,446.5 L167.59,446.46 L167.94,446.41 L168.29,446.33 L168.64,446.24 L168.99,446.11 L169.34,445.95 L169.69,445.74 L170.04,445.49 L170.39,445.18 L170.74,444.8 L171.09,444.36 L171.44,443.84 L171.79,443.24 L172.14,442.56 L172.49,441.81 L172.84,440.99 L173.19,440.12 L173.54,439.2 L173.89,438.26 L174.24,437.32 L174.59,436.4 L174.94,435.53 L175.29,434.75 L175.64,434.07 L175.99,433.51 L176.34,433.11 L176.69,432.87 L177.04,432.8 L177.39,432.91 L177.74,433.19 L178.09,433.63 L178.44,434.21 L178.79,434.92 L179.14,435.73 L179.49,436.61 L179.84,437.53 L180.19,438.47 L180.54,439.41 L180.89,440.32 L181.24,441.18 L181.59,441.99 L181.94,442.72 L182.29,443.38 L182.64,443.96 L182.99,444.47 L183.34,444.9 L183.69,445.26 L184.04,445.55 L184.39,445.79 L184.74,445.99 L185.09,446.14 L185.44,446.26 L185.79,446.35 L186.14,446.42 L186.49,446.47 L186.84,446.51 L187.19,446.54 L187.54,446.56 L187.89,446.57 L187.89,446.6 Z" fill="#00973c" fill-opacity="0.37"/>
<path d="M173.08,446.6 L173.08,446.59 L173.43,446.58 L173.78,446.58 L174.13,446.57 L174.48,446.55 L174.83,446.54 L175.18,446.51 L175.53,446.48 L175.88,446.43 L176.23,446.38 L176.58,446.31 L176.93,446.22 L177.28,446.1 L177.63,445.97 L177.98,445.8 L178.33,445.6 L178.68,445.37 L179.03,445.11 L179.38,444.8 L179.73,444.46 L180.08,444.09 L180.43,443.69 L180.78,443.27 L181.13,442.82 L181.48,442.37 L181.83,441.92 L182.18,441.49 L182.53,441.08 L182.88,440.71 L183.23,440.4 L183.58,440.14 L183.93,439.95 L184.28,439.83 L184.63,439.8 L184.98,439.85 L185.33,439.97 L185.68,440.18 L186.03,440.45 L186.38,440.77 L186.73,441.15 L187.08,441.56 L187.43,442 L187.78,442.45 L188.13,442.9 L188.48,443.34 L188.83,443.76 L189.18,444.16 L189.53,444.52 L189.88,444.86 L190.23,445.15 L190.58,445.41 L190.93,445.64 L191.28,445.83 L191.63,445.99 L191.98,446.12 L192.33,446.23 L192.68,446.32 L193.03,446.39 L193.38,446.44 L193.73,446.48 L194.08,446.52 L194.43,446.54 L194.78,446.56 L195.13,446.57 L195.48,446.58 L195.83,446.59 L195.83,446.6 Z" fill="#00973c" fill-opacity="0.37"/>
<path d="M180.42,446.6 L180.42,446.59 L180.77,446.59 L181.12,446.59 L181.47,446.58 L181.82,446.58 L182.17,446.57 L182.52,446.56 L182.87,446.54 L183.22,446.52 L183.57,446.5 L183.92,446.46 L184.27,446.42 L184.62,446.37 L184.97,446.31 L185.32,446.24 L185.67,446.15 L186.02,446.04 L186.37,445.92 L186.72,445.79 L187.07,445.63 L187.42,445.46 L187.77,445.27 L188.12,445.08 L188.47,444.87 L188.82,444.65 L189.17,444.43 L189.52,444.22 L189.87,444.01 L190.22,443.81 L190.57,443.64 L190.92,443.48 L191.27,443.36 L191.62,443.27 L191.97,443.22 L192.32,443.2 L192.67,443.22 L193.02,443.28 L193.37,443.37 L193.72,443.5 L194.07,443.66 L194.42,443.83 L194.77,444.03 L195.12,444.24 L195.47,444.46 L195.82,444.68 L196.17,444.89 L196.52,445.1 L196.87,445.3 L197.22,445.48 L197.57,445.65 L197.92,445.8 L198.27,445.94 L198.62,446.06 L198.97,446.16 L199.32,446.25 L199.67,446.32 L200.02,446.38 L200.37,446.43 L200.72,446.47 L201.07,446.5 L201.42,446.53 L201.77,446.54 L202.12,446.56 L202.47,446.57 L202.82,446.58 L203.17,446.59 L203.52,446.59 L203.87,446.59 L203.87,446.6 Z" fill="#00973c" fill-opacity="0.37"/>
<path d="M188.12,446.6 L188.12,446.6 L188.47,446.6 L188.82,446.59 L189.17,446.59 L189.52,446.59 L189.87,446.58 L190.22,446.58 L190.57,446.57 L190.92,446.56 L191.27,446.54 L191.62,446.52 L191.97,446.5 L192.32,446.47 L192.67,446.44 L193.02,446.4 L193.37,446.35 L193.72,446.29 L194.07,446.22 L194.42,446.15 L194.77,446.06 L195.12,445.96 L195.47,445.86 L195.82,445.75 L196.17,445.63 L196.52,445.51 L196.87,445.39 L197.22,445.27 L197.57,445.15 L197.92,445.04 L198.27,444.94 L198.62,444.86 L198.97,444.79 L199.32,444.74 L199.67,444.71 L200.02,444.7 L200.37,444.71 L200.72,444.74 L201.07,444.8 L201.42,444.87 L201.77,444.95 L202.12,445.05 L202.47,445.16 L202.82,445.28 L203.17,445.4 L203.52,445.52 L203.87,445.64 L204.22,445.76 L204.57,445.87 L204.92,445.97 L205.27,446.07 L205.62,446.15 L205.97,446.23 L206.32,446.3 L206.67,446.35 L207.02,446.4 L207.37,446.44 L207.72,446.48 L208.07,446.5 L208.42,446.53 L208.77,446.54 L209.12,446.56 L209.47,446.57 L209.82,446.58 L210.17,446.58 L210.52,446.59 L210.87,446.59 L211.22,446.59 L211.57,446.6 L211.57,446.6 Z" fill="#00973c" fill-opacity="0.37"/>
<path d="M195.12,446.6 L195.12,446.6 L195.47,446.6 L195.82,446.6 L196.17,446.6 L196.52,446.59 L196.87,446.59 L197.22,446.59 L197.57,446.58 L197.92,446.58 L198.27,446.57 L198.62,446.56 L198.97,446.55 L199.32,446.53 L199.67,446.52 L200.02,446.49 L200.37,446.47 L200.72,446.44 L201.07,446.4 L201.42,446.36 L201.77,446.32 L202.12,446.26 L202.47,446.21 L202.82,446.15 L203.17,446.09 L203.52,446.03 L203.87,445.96 L204.22,445.9 L204.57,445.84 L204.92,445.78 L205.27,445.73 L205.62,445.68 L205.97,445.65 L206.32,445.62 L206.67,445.6 L207.02,445.6 L207.37,445.61 L207.72,445.62 L208.07,445.65 L208.42,445.69 L208.77,445.73 L209.12,445.79 L209.47,445.84 L209.82,445.91 L210.17,445.97 L210.52,446.03 L210.87,446.1 L211.22,446.16 L211.57,446.22 L211.92,446.27 L212.27,446.32 L212.62,446.37 L212.97,446.41 L213.32,446.44 L213.67,446.47 L214.02,446.5 L214.37,446.52 L214.72,446.54 L215.07,446.55 L215.42,446.56 L215.77,446.57 L216.12,446.58 L216.47,446.58 L216.82,446.59 L217.17,446.59 L217.52,446.59 L217.87,446.6 L218.22,446.6 L218.57,446.6 L218.57,446.6 Z" fill="#00973c" fill-opacity="0.37"/>
<path d="M146.2,446.5 L148.5,440 L150.5,430 L151.6,423.5 L153.5,420.8 L155.4,419.2 L158,416 L160,412.8 L161.4,412.2 L163,414 L164.5,418.5 L166.2,421.2 L167.6,420 L169.2,419.2 L171,421.5 L173,426 L175.4,429.2 L177.7,430.5 L180,433.5 L182,436 L184.6,438.3 L188,440.5 L192.3,442.2 L196,442.6 L200,443.2 L204,444.2 L207.7,445.3 L210,446 L212.3,446.5" fill="none" stroke="#e8714e" stroke-width="0.9"/>
<line x1="121.4" y1="354.4" x2="121.4" y2="447" stroke="#8c8c8c" stroke-width="0.9" />
<line x1="121" y1="446.6" x2="216.7" y2="446.6" stroke="#8c8c8c" stroke-width="0.9" />
<line x1="119.1" y1="446.6" x2="121.4" y2="446.6" stroke="#555" stroke-width="0.9" />
<text x="116.4" y="448.9" font-size="6.7" text-anchor="end" fill="#252525" font-weight="normal" >0</text>
<line x1="119.1" y1="420.74" x2="121.4" y2="420.74" stroke="#555" stroke-width="0.9" />
<text x="116.4" y="423.04" font-size="6.7" text-anchor="end" fill="#252525" font-weight="normal" >5.0</text>
<line x1="119.1" y1="394.89" x2="121.4" y2="394.89" stroke="#555" stroke-width="0.9" />
<text x="116.4" y="397.19" font-size="6.7" text-anchor="end" fill="#252525" font-weight="normal" >10</text>
<line x1="119.1" y1="369.03" x2="121.4" y2="369.03" stroke="#555" stroke-width="0.9" />
<text x="116.4" y="371.33" font-size="6.7" text-anchor="end" fill="#252525" font-weight="normal" >15</text>
<line x1="120.1" y1="441.43" x2="121.4" y2="441.43" stroke="#777" stroke-width="0.7" />
<line x1="120.1" y1="436.26" x2="121.4" y2="436.26" stroke="#777" stroke-width="0.7" />
<line x1="120.1" y1="431.09" x2="121.4" y2="431.09" stroke="#777" stroke-width="0.7" />
<line x1="120.1" y1="425.92" x2="121.4" y2="425.92" stroke="#777" stroke-width="0.7" />
<line x1="120.1" y1="420.74" x2="121.4" y2="420.74" stroke="#777" stroke-width="0.7" />
<line x1="120.1" y1="415.57" x2="121.4" y2="415.57" stroke="#777" stroke-width="0.7" />
<line x1="120.1" y1="410.4" x2="121.4" y2="410.4" stroke="#777" stroke-width="0.7" />
<line x1="120.1" y1="405.23" x2="121.4" y2="405.23" stroke="#777" stroke-width="0.7" />
<line x1="120.1" y1="400.06" x2="121.4" y2="400.06" stroke="#777" stroke-width="0.7" />
<line x1="120.1" y1="394.89" x2="121.4" y2="394.89" stroke="#777" stroke-width="0.7" />
<line x1="120.1" y1="389.72" x2="121.4" y2="389.72" stroke="#777" stroke-width="0.7" />
<line x1="120.1" y1="384.55" x2="121.4" y2="384.55" stroke="#777" stroke-width="0.7" />
<line x1="120.1" y1="379.38" x2="121.4" y2="379.38" stroke="#777" stroke-width="0.7" />
<line x1="120.1" y1="374.21" x2="121.4" y2="374.21" stroke="#777" stroke-width="0.7" />
<line x1="120.1" y1="369.03" x2="121.4" y2="369.03" stroke="#777" stroke-width="0.7" />
<line x1="120.1" y1="363.86" x2="121.4" y2="363.86" stroke="#777" stroke-width="0.7" />
<line x1="120.1" y1="358.69" x2="121.4" y2="358.69" stroke="#777" stroke-width="0.7" />
<line x1="127.7" y1="446.6" x2="127.7" y2="448.6" stroke="#555" stroke-width="0.9" />
<text x="127.7" y="457.5" font-size="6.6" text-anchor="middle" fill="#252525">–10<tspan font-size="4.4" dy="-2.7">3</tspan></text>
<line x1="142.7" y1="446.6" x2="142.7" y2="448.6" stroke="#555" stroke-width="0.9" />
<text x="142.7" y="457.5" font-size="6.6" text-anchor="middle" fill="#252525">0</text>
<line x1="157.2" y1="446.6" x2="157.2" y2="448.6" stroke="#555" stroke-width="0.9" />
<text x="157.2" y="457.5" font-size="6.6" text-anchor="middle" fill="#252525">10<tspan font-size="4.4" dy="-2.7">3</tspan></text>
<line x1="184.2" y1="446.6" x2="184.2" y2="448.6" stroke="#555" stroke-width="0.9" />
<text x="184.2" y="457.5" font-size="6.6" text-anchor="middle" fill="#252525">10<tspan font-size="4.4" dy="-2.7">4</tspan></text>
<line x1="206" y1="446.6" x2="206" y2="448.6" stroke="#555" stroke-width="0.9" />
<text x="206" y="457.5" font-size="6.6" text-anchor="middle" fill="#252525">10<tspan font-size="4.4" dy="-2.7">5</tspan></text>
<line x1="123.4" y1="446.6" x2="123.4" y2="447.8" stroke="#777" stroke-width="0.7" />
<line x1="131.4" y1="446.6" x2="131.4" y2="447.8" stroke="#777" stroke-width="0.7" />
<line x1="135.4" y1="446.6" x2="135.4" y2="447.8" stroke="#777" stroke-width="0.7" />
<line x1="139.4" y1="446.6" x2="139.4" y2="447.8" stroke="#777" stroke-width="0.7" />
<line x1="147.4" y1="446.6" x2="147.4" y2="447.8" stroke="#777" stroke-width="0.7" />
<line x1="151.4" y1="446.6" x2="151.4" y2="447.8" stroke="#777" stroke-width="0.7" />
<line x1="166.4" y1="446.6" x2="166.4" y2="447.8" stroke="#777" stroke-width="0.7" />
<line x1="173.4" y1="446.6" x2="173.4" y2="447.8" stroke="#777" stroke-width="0.7" />
<line x1="177.4" y1="446.6" x2="177.4" y2="447.8" stroke="#777" stroke-width="0.7" />
<line x1="180.4" y1="446.6" x2="180.4" y2="447.8" stroke="#777" stroke-width="0.7" />
<line x1="182.4" y1="446.6" x2="182.4" y2="447.8" stroke="#777" stroke-width="0.7" />
<line x1="191.4" y1="446.6" x2="191.4" y2="447.8" stroke="#777" stroke-width="0.7" />
<line x1="196.4" y1="446.6" x2="196.4" y2="447.8" stroke="#777" stroke-width="0.7" />
<line x1="199.4" y1="446.6" x2="199.4" y2="447.8" stroke="#777" stroke-width="0.7" />
<line x1="202.4" y1="446.6" x2="202.4" y2="447.8" stroke="#777" stroke-width="0.7" />
<line x1="204.9" y1="446.6" x2="204.9" y2="447.8" stroke="#777" stroke-width="0.7" />
<line x1="210.4" y1="446.6" x2="210.4" y2="447.8" stroke="#777" stroke-width="0.7" />
<text x="169.05" y="469.4" font-size="8.2" text-anchor="middle" fill="#252525" textLength="59" lengthAdjust="spacingAndGlyphs">Comp-V450-A :: CTV</text>
<text transform="translate(102.4,400.5) rotate(-90)" font-size="8.3" text-anchor="middle" fill="#252525" textLength="19" lengthAdjust="spacingAndGlyphs">Count</text>
<text x="214.5" y="367.4" font-size="6.5" text-anchor="end" fill="#252525">Undivided</text>
<line x1="205.4" y1="372.8" x2="210.8" y2="372.8" stroke="#222" stroke-width="1.0" />
<line x1="205.4" y1="371.2" x2="205.4" y2="374.4" stroke="#222" stroke-width="1.1" />
<line x1="210.8" y1="371.2" x2="210.8" y2="374.4" stroke="#222" stroke-width="1.1" />
<rect x="140.4" y="445.7" width="4.4" height="1.9" fill="#111"/>
<rect x="121" y="490.7" width="96.3" height="95.1" fill="#fff" stroke="#8a8a8a" stroke-width="0.9"/>
<rect x="205.5" y="491.15" width="5.7" height="94.2" fill="#cfcfcf"/>
<path d="M169.44,585.8 L169.44,585.79 L169.79,585.78 L170.14,585.77 L170.49,585.75 L170.84,585.72 L171.19,585.68 L171.54,585.63 L171.89,585.55 L172.24,585.44 L172.59,585.3 L172.94,585.12 L173.29,584.89 L173.64,584.6 L173.99,584.25 L174.34,583.83 L174.69,583.33 L175.04,582.78 L175.39,582.16 L175.74,581.5 L176.09,580.8 L176.44,580.1 L176.79,579.42 L177.14,578.79 L177.49,578.23 L177.84,577.77 L178.19,577.43 L178.54,577.24 L178.89,577.21 L179.24,577.32 L179.59,577.59 L179.94,577.99 L180.29,578.5 L180.64,579.11 L180.99,579.77 L181.34,580.46 L181.69,581.16 L182.04,581.84 L182.39,582.48 L182.74,583.07 L183.09,583.6 L183.44,584.05 L183.79,584.44 L184.14,584.76 L184.49,585.02 L184.84,585.22 L185.19,585.38 L185.54,585.5 L185.89,585.59 L186.24,585.66 L186.59,585.7 L186.94,585.74 L187.29,585.76 L187.64,585.77 L187.99,585.78 L187.99,585.8 Z" fill="#00973c" fill-opacity="0.37"/>
<path d="M177.24,585.8 L177.24,585.78 L177.59,585.77 L177.94,585.75 L178.29,585.72 L178.64,585.67 L178.99,585.61 L179.34,585.52 L179.69,585.4 L180.04,585.23 L180.39,585 L180.74,584.71 L181.09,584.34 L181.44,583.87 L181.79,583.31 L182.14,582.63 L182.49,581.84 L182.84,580.95 L183.19,579.96 L183.54,578.9 L183.89,577.78 L184.24,576.66 L184.59,575.56 L184.94,574.54 L185.29,573.65 L185.64,572.91 L185.99,572.37 L186.34,572.07 L186.69,572.01 L187.04,572.2 L187.39,572.62 L187.74,573.26 L188.09,574.09 L188.44,575.06 L188.79,576.12 L189.14,577.24 L189.49,578.36 L189.84,579.45 L190.19,580.48 L190.54,581.42 L190.89,582.26 L191.24,582.99 L191.59,583.61 L191.94,584.13 L192.29,584.54 L192.64,584.87 L192.99,585.13 L193.34,585.32 L193.69,585.46 L194.04,585.57 L194.39,585.64 L194.74,585.7 L195.09,585.73 L195.44,585.76 L195.79,585.77 L195.79,585.8 Z" fill="#00973c" fill-opacity="0.37"/>
<path d="M184.34,585.8 L184.34,585.78 L184.69,585.78 L185.04,585.76 L185.39,585.74 L185.74,585.71 L186.09,585.66 L186.44,585.6 L186.79,585.51 L187.14,585.39 L187.49,585.23 L187.84,585.03 L188.19,584.76 L188.54,584.43 L188.89,584.03 L189.24,583.55 L189.59,582.99 L189.94,582.36 L190.29,581.65 L190.64,580.9 L190.99,580.11 L191.34,579.31 L191.69,578.53 L192.04,577.81 L192.39,577.17 L192.74,576.65 L193.09,576.27 L193.44,576.05 L193.79,576.01 L194.14,576.14 L194.49,576.44 L194.84,576.9 L195.19,577.48 L195.54,578.17 L195.89,578.93 L196.24,579.72 L196.59,580.52 L196.94,581.29 L197.29,582.02 L197.64,582.69 L197.99,583.29 L198.34,583.81 L198.69,584.25 L199.04,584.61 L199.39,584.91 L199.74,585.14 L200.09,585.32 L200.44,585.46 L200.79,585.56 L201.14,585.64 L201.49,585.69 L201.84,585.73 L202.19,585.75 L202.54,585.77 L202.89,585.78 L202.89,585.8 Z" fill="#00973c" fill-opacity="0.37"/>
<path d="M191.64,585.8 L191.64,585.79 L191.99,585.78 L192.34,585.77 L192.69,585.76 L193.04,585.73 L193.39,585.7 L193.74,585.65 L194.09,585.59 L194.44,585.5 L194.79,585.38 L195.14,585.23 L195.49,585.04 L195.84,584.8 L196.19,584.5 L196.54,584.15 L196.89,583.74 L197.24,583.27 L197.59,582.75 L197.94,582.2 L198.29,581.62 L198.64,581.03 L198.99,580.46 L199.34,579.93 L199.69,579.46 L200.04,579.07 L200.39,578.8 L200.74,578.64 L201.09,578.6 L201.44,578.7 L201.79,578.92 L202.14,579.26 L202.49,579.69 L202.84,580.19 L203.19,580.75 L203.54,581.33 L203.89,581.92 L204.24,582.49 L204.59,583.02 L204.94,583.52 L205.29,583.95 L205.64,584.34 L205.99,584.66 L206.34,584.93 L206.69,585.14 L207.04,585.32 L207.39,585.45 L207.74,585.55 L208.09,585.63 L208.44,585.68 L208.79,585.72 L209.14,585.75 L209.49,585.77 L209.84,585.78 L210.19,585.79 L210.19,585.8 Z" fill="#00973c" fill-opacity="0.37"/>
<path d="M198.14,585.8 L198.14,585.79 L198.49,585.79 L198.84,585.78 L199.19,585.77 L199.54,585.76 L199.89,585.73 L200.24,585.7 L200.59,585.66 L200.94,585.6 L201.29,585.52 L201.64,585.42 L201.99,585.29 L202.34,585.13 L202.69,584.93 L203.04,584.7 L203.39,584.42 L203.74,584.11 L204.09,583.77 L204.44,583.4 L204.79,583.01 L205.14,582.62 L205.49,582.24 L205.84,581.89 L206.19,581.57 L206.54,581.32 L206.89,581.13 L207.24,581.02 L207.59,581 L207.94,581.07 L208.29,581.22 L208.64,581.44 L208.99,581.73 L209.34,582.06 L209.69,582.43 L210.04,582.82 L210.39,583.21 L210.74,583.59 L211.09,583.95 L211.44,584.28 L211.79,584.57 L212.14,584.82 L212.49,585.04 L212.84,585.22 L213.19,585.36 L213.54,585.48 L213.89,585.57 L214.24,585.63 L214.59,585.68 L214.94,585.72 L215.29,585.75 L215.64,585.76 L215.99,585.78 L216.34,585.79 L216.69,585.79 L216.69,585.8 Z" fill="#00973c" fill-opacity="0.37"/>
<path d="M171.4,585.77 L171.7,585.75 L172,585.72 L172.3,585.68 L172.6,585.63 L172.9,585.55 L173.2,585.44 L173.5,585.29 L173.8,585.1 L174.1,584.86 L174.4,584.55 L174.7,584.18 L175,583.73 L175.3,583.2 L175.6,582.61 L175.9,581.94 L176.2,581.22 L176.5,580.47 L176.8,579.71 L177.1,578.97 L177.4,578.28 L177.7,577.68 L178,577.18 L178.3,576.82 L178.6,576.62 L178.9,576.58 L179.2,576.7 L179.5,576.98 L179.8,577.38 L180.1,577.89 L180.4,578.47 L180.7,579.07 L181,579.66 L181.3,580.19 L181.6,580.62 L181.9,580.92 L182.2,581.06 L182.5,581.03 L182.8,580.8 L183.1,580.38 L183.4,579.77 L183.7,578.99 L184,578.07 L184.3,577.06 L184.6,575.99 L184.9,574.92 L185.2,573.9 L185.5,572.99 L185.8,572.25 L186.1,571.7 L186.4,571.4 L186.7,571.34 L187,571.53 L187.3,571.96 L187.6,572.6 L187.9,573.4 L188.2,574.31 L188.5,575.27 L188.8,576.23 L189.1,577.13 L189.4,577.91 L189.7,578.55 L190,579.01 L190.3,579.27 L190.6,579.34 L190.9,579.22 L191.2,578.94 L191.5,578.53 L191.8,578.03 L192.1,577.49 L192.4,576.95 L192.7,576.47 L193,576.07 L193.3,575.81 L193.6,575.69 L193.9,575.74 L194.2,575.96 L194.5,576.32 L194.8,576.82 L195.1,577.42 L195.4,578.09 L195.7,578.78 L196,579.45 L196.3,580.07 L196.6,580.6 L196.9,581.02 L197.2,581.31 L197.5,581.46 L197.8,581.47 L198.1,581.34 L198.4,581.1 L198.7,580.76 L199,580.35 L199.3,579.91 L199.6,579.47 L199.9,579.07 L200.2,578.73 L200.5,578.47 L200.8,578.33 L201.1,578.3 L201.4,578.39 L201.7,578.6 L202,578.9 L202.3,579.27 L202.6,579.7 L202.9,580.14 L203.2,580.57 L203.5,580.96 L203.8,581.29 L204.1,581.54 L204.4,581.71 L204.7,581.78 L205,581.76 L205.3,581.67 L205.6,581.52 L205.9,581.34 L206.2,581.15 L206.5,580.97 L206.8,580.82 L207.1,580.72 L207.4,580.7 L207.7,580.75 L208,580.88 L208.3,581.09 L208.6,581.37 L208.9,581.7 L209.2,582.08 L209.5,582.49 L209.8,582.9 L210.1,583.31 L210.4,583.7 L210.7,584.06 L211,584.39 L211.3,584.67 L211.6,584.92 L211.9,585.12 L212.2,585.29 L212.5,585.42 L212.8,585.53 L213.1,585.6 L213.4,585.66 L213.7,585.71 L214,585.74 L214.3,585.76" fill="none" stroke="#e2673f" stroke-width="0.85"/>
<line x1="121" y1="490.7" x2="121" y2="586.2" stroke="#8c8c8c" stroke-width="0.9" />
<line x1="120.6" y1="585.8" x2="217.3" y2="585.8" stroke="#8c8c8c" stroke-width="0.9" />
<line x1="118.7" y1="585.8" x2="121" y2="585.8" stroke="#555" stroke-width="0.9" />
<text x="116" y="588.1" font-size="6.7" text-anchor="end" fill="#252525" font-weight="normal" >0</text>
<line x1="118.7" y1="554.1" x2="121" y2="554.1" stroke="#555" stroke-width="0.9" />
<text x="116" y="556.4" font-size="6.7" text-anchor="end" fill="#252525" font-weight="normal" >1.00</text>
<line x1="118.7" y1="522.4" x2="121" y2="522.4" stroke="#555" stroke-width="0.9" />
<text x="116" y="524.7" font-size="6.7" text-anchor="end" fill="#252525" font-weight="normal" >2.0</text>
<line x1="118.7" y1="490.7" x2="121" y2="490.7" stroke="#555" stroke-width="0.9" />
<text x="116" y="493" font-size="6.7" text-anchor="end" fill="#252525" font-weight="normal" >3.0</text>
<line x1="119.7" y1="577.88" x2="121" y2="577.88" stroke="#777" stroke-width="0.7" />
<line x1="119.7" y1="569.95" x2="121" y2="569.95" stroke="#777" stroke-width="0.7" />
<line x1="119.7" y1="562.02" x2="121" y2="562.02" stroke="#777" stroke-width="0.7" />
<line x1="119.7" y1="554.1" x2="121" y2="554.1" stroke="#777" stroke-width="0.7" />
<line x1="119.7" y1="546.17" x2="121" y2="546.17" stroke="#777" stroke-width="0.7" />
<line x1="119.7" y1="538.25" x2="121" y2="538.25" stroke="#777" stroke-width="0.7" />
<line x1="119.7" y1="530.32" x2="121" y2="530.32" stroke="#777" stroke-width="0.7" />
<line x1="119.7" y1="522.4" x2="121" y2="522.4" stroke="#777" stroke-width="0.7" />
<line x1="119.7" y1="514.48" x2="121" y2="514.48" stroke="#777" stroke-width="0.7" />
<line x1="119.7" y1="506.55" x2="121" y2="506.55" stroke="#777" stroke-width="0.7" />
<line x1="119.7" y1="498.62" x2="121" y2="498.62" stroke="#777" stroke-width="0.7" />
<line x1="127.3" y1="585.8" x2="127.3" y2="587.8" stroke="#555" stroke-width="0.9" />
<text x="127.3" y="596.7" font-size="6.6" text-anchor="middle" fill="#252525">–10<tspan font-size="4.4" dy="-2.7">3</tspan></text>
<line x1="142.3" y1="585.8" x2="142.3" y2="587.8" stroke="#555" stroke-width="0.9" />
<text x="142.3" y="596.7" font-size="6.6" text-anchor="middle" fill="#252525">0</text>
<line x1="156.8" y1="585.8" x2="156.8" y2="587.8" stroke="#555" stroke-width="0.9" />
<text x="156.8" y="596.7" font-size="6.6" text-anchor="middle" fill="#252525">10<tspan font-size="4.4" dy="-2.7">3</tspan></text>
<line x1="183.8" y1="585.8" x2="183.8" y2="587.8" stroke="#555" stroke-width="0.9" />
<text x="183.8" y="596.7" font-size="6.6" text-anchor="middle" fill="#252525">10<tspan font-size="4.4" dy="-2.7">4</tspan></text>
<line x1="205.6" y1="585.8" x2="205.6" y2="587.8" stroke="#555" stroke-width="0.9" />
<text x="205.6" y="596.7" font-size="6.6" text-anchor="middle" fill="#252525">10<tspan font-size="4.4" dy="-2.7">5</tspan></text>
<line x1="123" y1="585.8" x2="123" y2="587" stroke="#777" stroke-width="0.7" />
<line x1="131" y1="585.8" x2="131" y2="587" stroke="#777" stroke-width="0.7" />
<line x1="135" y1="585.8" x2="135" y2="587" stroke="#777" stroke-width="0.7" />
<line x1="139" y1="585.8" x2="139" y2="587" stroke="#777" stroke-width="0.7" />
<line x1="147" y1="585.8" x2="147" y2="587" stroke="#777" stroke-width="0.7" />
<line x1="151" y1="585.8" x2="151" y2="587" stroke="#777" stroke-width="0.7" />
<line x1="166" y1="585.8" x2="166" y2="587" stroke="#777" stroke-width="0.7" />
<line x1="173" y1="585.8" x2="173" y2="587" stroke="#777" stroke-width="0.7" />
<line x1="177" y1="585.8" x2="177" y2="587" stroke="#777" stroke-width="0.7" />
<line x1="180" y1="585.8" x2="180" y2="587" stroke="#777" stroke-width="0.7" />
<line x1="182" y1="585.8" x2="182" y2="587" stroke="#777" stroke-width="0.7" />
<line x1="191" y1="585.8" x2="191" y2="587" stroke="#777" stroke-width="0.7" />
<line x1="196" y1="585.8" x2="196" y2="587" stroke="#777" stroke-width="0.7" />
<line x1="199" y1="585.8" x2="199" y2="587" stroke="#777" stroke-width="0.7" />
<line x1="202" y1="585.8" x2="202" y2="587" stroke="#777" stroke-width="0.7" />
<line x1="204.5" y1="585.8" x2="204.5" y2="587" stroke="#777" stroke-width="0.7" />
<line x1="210" y1="585.8" x2="210" y2="587" stroke="#777" stroke-width="0.7" />
<text x="169.15" y="608.6" font-size="8.2" text-anchor="middle" fill="#252525" textLength="59" lengthAdjust="spacingAndGlyphs">Comp-V450-A :: CTV</text>
<text transform="translate(98.4,538.25) rotate(-90)" font-size="8.3" text-anchor="middle" fill="#252525" textLength="19" lengthAdjust="spacingAndGlyphs">Count</text>
<text x="214.6" y="503.9" font-size="6.5" text-anchor="end" fill="#252525">Undivided</text>
<line x1="205.7" y1="509" x2="211" y2="509" stroke="#222" stroke-width="1.0" />
<line x1="205.7" y1="507.4" x2="205.7" y2="510.6" stroke="#222" stroke-width="1.1" />
<line x1="211" y1="507.4" x2="211" y2="510.6" stroke="#222" stroke-width="1.1" />
<rect x="140" y="584.9" width="4.4" height="1.9" fill="#111"/>
<rect x="263" y="219.2" width="94.8" height="91.3" fill="#fff" stroke="#8a8a8a" stroke-width="0.9"/>
<rect x="345.4" y="219.65" width="4.3" height="90.4" fill="#cfcfcf"/>
<path d="M278.8,310.5 L278.8,310.5 L279,310.5 L279.2,310.5 L279.4,310.5 L279.6,310.5 L279.8,310.5 L280,310.5 L280.2,310.5 L280.4,310.5 L280.6,310.5 L280.8,310.5 L281,310.5 L281.2,310.5 L281.4,310.5 L281.6,309.01 L281.8,306.29 L282,302.77 L282.2,298.6 L282.4,293.86 L282.6,288.63 L282.8,282.94 L283,276.83 L283.2,270.32 L283.4,263.45 L283.6,256.21 L283.8,248.65 L284,240.75 L284.2,232.55 L284.4,224.06 L284.6,219.5 L284.8,219.5 L285,219.5 L285.2,224.06 L285.4,232.55 L285.6,240.75 L285.8,248.65 L286,256.21 L286.2,263.45 L286.4,270.32 L286.6,276.83 L286.8,282.94 L287,288.63 L287.2,293.86 L287.4,298.6 L287.6,302.77 L287.8,306.29 L288,309.01 L288.2,310.5 L288.4,310.5 L288.6,310.5 L288.8,310.5 L289,310.5 L289.2,310.5 L289.4,310.5 L289.6,310.5 L289.8,310.5 L290,310.5 L290.2,310.5 L290.4,310.5 L290.6,310.5 L290.8,310.5 L290.8,310.5 Z" fill="#f4c9ae" fill-opacity="0.55"/>
<path d="M281.22,310.5 L281.22,310.42 L281.42,310.34 L281.62,310.2 L281.82,309.96 L282.02,309.56 L282.22,308.91 L282.42,307.91 L282.62,306.44 L282.82,304.36 L283.02,301.55 L283.22,297.92 L283.42,293.43 L283.62,288.18 L283.82,282.34 L284.02,276.25 L284.22,270.32 L284.42,265.04 L284.62,260.91 L284.82,258.32 L285.02,257.56 L285.22,258.7 L285.42,261.62 L285.62,266.02 L285.82,271.47 L286.02,277.47 L286.22,283.54 L286.42,289.28 L286.62,294.39 L286.82,298.71 L287.02,302.18 L287.22,304.84 L287.42,306.78 L287.62,308.15 L287.82,309.06 L288.02,309.65 L288.22,310.02 L288.42,310.24 L288.62,310.36 L288.62,310.5 Z" fill="#00973c" fill-opacity="0.45"/>
<path d="M279.96,310.5 L279.96,310.49 L280.16,310.48 L280.36,310.46 L280.56,310.44 L280.76,310.4 L280.96,310.35 L281.16,310.28 L281.36,310.17 L281.56,310.03 L281.76,309.84 L281.96,309.59 L282.16,309.27 L282.36,308.87 L282.56,308.39 L282.76,307.82 L282.96,307.17 L283.16,306.44 L283.36,305.65 L283.56,304.83 L283.76,304 L283.96,303.19 L284.16,302.46 L284.36,301.83 L284.56,301.34 L284.76,301.01 L284.96,300.88 L285.16,300.94 L285.36,301.19 L285.56,301.61 L285.76,302.19 L285.96,302.89 L286.16,303.67 L286.36,304.49 L286.56,305.33 L286.76,306.13 L286.96,306.89 L287.16,307.57 L287.36,308.17 L287.56,308.69 L287.76,309.12 L287.96,309.47 L288.16,309.75 L288.36,309.96 L288.56,310.12 L288.76,310.24 L288.96,310.32 L289.16,310.38 L289.36,310.42 L289.56,310.45 L289.76,310.47 L289.96,310.48 L289.96,310.5 Z" fill="#00973c" fill-opacity="0.45"/>
<path d="M278.52,310.5 L278.52,310.5 L278.72,310.49 L278.92,310.49 L279.12,310.48 L279.32,310.48 L279.52,310.47 L279.72,310.46 L279.92,310.44 L280.12,310.42 L280.32,310.39 L280.52,310.36 L280.72,310.31 L280.92,310.25 L281.12,310.19 L281.32,310.1 L281.52,310 L281.72,309.89 L281.92,309.76 L282.12,309.61 L282.32,309.44 L282.52,309.26 L282.72,309.06 L282.92,308.85 L283.12,308.64 L283.32,308.42 L283.52,308.21 L283.72,308.01 L283.92,307.82 L284.12,307.65 L284.32,307.51 L284.52,307.4 L284.72,307.33 L284.92,307.29 L285.12,307.3 L285.32,307.34 L285.52,307.42 L285.72,307.54 L285.92,307.68 L286.12,307.86 L286.32,308.05 L286.52,308.25 L286.72,308.47 L286.92,308.68 L287.12,308.9 L287.32,309.1 L287.52,309.3 L287.72,309.48 L287.92,309.64 L288.12,309.79 L288.32,309.91 L288.52,310.03 L288.72,310.12 L288.92,310.2 L289.12,310.27 L289.32,310.32 L289.52,310.36 L289.72,310.4 L289.92,310.42 L290.12,310.44 L290.32,310.46 L290.52,310.47 L290.72,310.48 L290.92,310.49 L291.12,310.49 L291.32,310.49 L291.32,310.5 Z" fill="#00973c" fill-opacity="0.45"/>
<path d="M278.8,310.5 L279,310.5 L279.2,310.5 L279.4,310.5 L279.6,310.5 L279.8,310.5 L280,310.5 L280.2,310.5 L280.4,310.5 L280.6,310.5 L280.8,310.5 L281,310.5 L281.2,310.5 L281.4,310.5 L281.6,309.01 L281.8,306.29 L282,302.77 L282.2,298.6 L282.4,293.86 L282.6,288.63 L282.8,282.94 L283,276.83 L283.2,270.32 L283.4,263.45 L283.6,256.21 L283.8,248.65 L284,240.75 L284.2,232.55 L284.4,224.06 L284.6,219.5 L284.8,219.5 L285,219.5 L285.2,224.06 L285.4,232.55 L285.6,240.75 L285.8,248.65 L286,256.21 L286.2,263.45 L286.4,270.32 L286.6,276.83 L286.8,282.94 L287,288.63 L287.2,293.86 L287.4,298.6 L287.6,302.77 L287.8,306.29 L288,309.01 L288.2,310.5 L288.4,310.5 L288.6,310.5 L288.8,310.5 L289,310.5 L289.2,310.5 L289.4,310.5 L289.6,310.5 L289.8,310.5 L290,310.5 L290.2,310.5 L290.4,310.5 L290.6,310.5 L290.8,310.5" fill="none" stroke="#e0603a" stroke-width="0.8"/>
<line x1="263" y1="219.2" x2="263" y2="310.9" stroke="#8c8c8c" stroke-width="0.9" />
<line x1="262.6" y1="310.5" x2="357.8" y2="310.5" stroke="#8c8c8c" stroke-width="0.9" />
<line x1="260.7" y1="310.5" x2="263" y2="310.5" stroke="#555" stroke-width="0.9" />
<text x="258" y="312.8" font-size="6.7" text-anchor="end" fill="#252525" font-weight="normal" >0</text>
<line x1="260.7" y1="294.45" x2="263" y2="294.45" stroke="#555" stroke-width="0.9" />
<text x="258" y="296.75" font-size="6.7" text-anchor="end" fill="#252525" font-weight="normal" >100</text>
<line x1="260.7" y1="278.41" x2="263" y2="278.41" stroke="#555" stroke-width="0.9" />
<text x="258" y="280.71" font-size="6.7" text-anchor="end" fill="#252525" font-weight="normal" >200</text>
<line x1="260.7" y1="262.36" x2="263" y2="262.36" stroke="#555" stroke-width="0.9" />
<text x="258" y="264.66" font-size="6.7" text-anchor="end" fill="#252525" font-weight="normal" >300</text>
<line x1="260.7" y1="246.32" x2="263" y2="246.32" stroke="#555" stroke-width="0.9" />
<text x="258" y="248.62" font-size="6.7" text-anchor="end" fill="#252525" font-weight="normal" >400</text>
<line x1="260.7" y1="230.27" x2="263" y2="230.27" stroke="#555" stroke-width="0.9" />
<text x="258" y="232.57" font-size="6.7" text-anchor="end" fill="#252525" font-weight="normal" >500</text>
<line x1="261.7" y1="306.49" x2="263" y2="306.49" stroke="#777" stroke-width="0.7" />
<line x1="261.7" y1="302.48" x2="263" y2="302.48" stroke="#777" stroke-width="0.7" />
<line x1="261.7" y1="298.47" x2="263" y2="298.47" stroke="#777" stroke-width="0.7" />
<line x1="261.7" y1="294.45" x2="263" y2="294.45" stroke="#777" stroke-width="0.7" />
<line x1="261.7" y1="290.44" x2="263" y2="290.44" stroke="#777" stroke-width="0.7" />
<line x1="261.7" y1="286.43" x2="263" y2="286.43" stroke="#777" stroke-width="0.7" />
<line x1="261.7" y1="282.42" x2="263" y2="282.42" stroke="#777" stroke-width="0.7" />
<line x1="261.7" y1="278.41" x2="263" y2="278.41" stroke="#777" stroke-width="0.7" />
<line x1="261.7" y1="274.4" x2="263" y2="274.4" stroke="#777" stroke-width="0.7" />
<line x1="261.7" y1="270.39" x2="263" y2="270.39" stroke="#777" stroke-width="0.7" />
<line x1="261.7" y1="266.37" x2="263" y2="266.37" stroke="#777" stroke-width="0.7" />
<line x1="261.7" y1="262.36" x2="263" y2="262.36" stroke="#777" stroke-width="0.7" />
<line x1="261.7" y1="258.35" x2="263" y2="258.35" stroke="#777" stroke-width="0.7" />
<line x1="261.7" y1="254.34" x2="263" y2="254.34" stroke="#777" stroke-width="0.7" />
<line x1="261.7" y1="250.33" x2="263" y2="250.33" stroke="#777" stroke-width="0.7" />
<line x1="261.7" y1="246.32" x2="263" y2="246.32" stroke="#777" stroke-width="0.7" />
<line x1="261.7" y1="242.31" x2="263" y2="242.31" stroke="#777" stroke-width="0.7" />
<line x1="261.7" y1="238.29" x2="263" y2="238.29" stroke="#777" stroke-width="0.7" />
<line x1="261.7" y1="234.28" x2="263" y2="234.28" stroke="#777" stroke-width="0.7" />
<line x1="261.7" y1="230.27" x2="263" y2="230.27" stroke="#777" stroke-width="0.7" />
<line x1="261.7" y1="226.26" x2="263" y2="226.26" stroke="#777" stroke-width="0.7" />
<line x1="261.7" y1="222.25" x2="263" y2="222.25" stroke="#777" stroke-width="0.7" />
<line x1="269.3" y1="310.5" x2="269.3" y2="312.5" stroke="#555" stroke-width="0.9" />
<text x="269.3" y="321.4" font-size="6.6" text-anchor="middle" fill="#252525">–10<tspan font-size="4.4" dy="-2.7">3</tspan></text>
<line x1="284.3" y1="310.5" x2="284.3" y2="312.5" stroke="#555" stroke-width="0.9" />
<text x="284.3" y="321.4" font-size="6.6" text-anchor="middle" fill="#252525">0</text>
<line x1="298.8" y1="310.5" x2="298.8" y2="312.5" stroke="#555" stroke-width="0.9" />
<text x="298.8" y="321.4" font-size="6.6" text-anchor="middle" fill="#252525">10<tspan font-size="4.4" dy="-2.7">3</tspan></text>
<line x1="325.8" y1="310.5" x2="325.8" y2="312.5" stroke="#555" stroke-width="0.9" />
<text x="325.8" y="321.4" font-size="6.6" text-anchor="middle" fill="#252525">10<tspan font-size="4.4" dy="-2.7">4</tspan></text>
<line x1="347.6" y1="310.5" x2="347.6" y2="312.5" stroke="#555" stroke-width="0.9" />
<text x="347.6" y="321.4" font-size="6.6" text-anchor="middle" fill="#252525">10<tspan font-size="4.4" dy="-2.7">5</tspan></text>
<line x1="265" y1="310.5" x2="265" y2="311.7" stroke="#777" stroke-width="0.7" />
<line x1="273" y1="310.5" x2="273" y2="311.7" stroke="#777" stroke-width="0.7" />
<line x1="277" y1="310.5" x2="277" y2="311.7" stroke="#777" stroke-width="0.7" />
<line x1="281" y1="310.5" x2="281" y2="311.7" stroke="#777" stroke-width="0.7" />
<line x1="289" y1="310.5" x2="289" y2="311.7" stroke="#777" stroke-width="0.7" />
<line x1="293" y1="310.5" x2="293" y2="311.7" stroke="#777" stroke-width="0.7" />
<line x1="308" y1="310.5" x2="308" y2="311.7" stroke="#777" stroke-width="0.7" />
<line x1="315" y1="310.5" x2="315" y2="311.7" stroke="#777" stroke-width="0.7" />
<line x1="319" y1="310.5" x2="319" y2="311.7" stroke="#777" stroke-width="0.7" />
<line x1="322" y1="310.5" x2="322" y2="311.7" stroke="#777" stroke-width="0.7" />
<line x1="324" y1="310.5" x2="324" y2="311.7" stroke="#777" stroke-width="0.7" />
<line x1="333" y1="310.5" x2="333" y2="311.7" stroke="#777" stroke-width="0.7" />
<line x1="338" y1="310.5" x2="338" y2="311.7" stroke="#777" stroke-width="0.7" />
<line x1="341" y1="310.5" x2="341" y2="311.7" stroke="#777" stroke-width="0.7" />
<line x1="344" y1="310.5" x2="344" y2="311.7" stroke="#777" stroke-width="0.7" />
<line x1="346.5" y1="310.5" x2="346.5" y2="311.7" stroke="#777" stroke-width="0.7" />
<line x1="352" y1="310.5" x2="352" y2="311.7" stroke="#777" stroke-width="0.7" />
<text x="310.4" y="333.3" font-size="8.2" text-anchor="middle" fill="#252525" textLength="59" lengthAdjust="spacingAndGlyphs">Comp-V450-A :: CTV</text>
<text transform="translate(242,264.85) rotate(-90)" font-size="8.3" text-anchor="middle" fill="#252525" textLength="19" lengthAdjust="spacingAndGlyphs">Count</text>
<text x="357" y="230.5" font-size="6.5" text-anchor="end" fill="#252525">Undivided</text>
<line x1="345.6" y1="236.7" x2="349.5" y2="236.7" stroke="#222" stroke-width="1.0" />
<line x1="345.6" y1="235.1" x2="345.6" y2="238.3" stroke="#222" stroke-width="1.1" />
<line x1="349.5" y1="235.1" x2="349.5" y2="238.3" stroke="#222" stroke-width="1.1" />
<rect x="282" y="309.6" width="4.4" height="1.9" fill="#111"/>
<rect x="264.5" y="354.3" width="92" height="92.4" fill="#fff" stroke="#8a8a8a" stroke-width="0.9"/>
<rect x="343.9" y="354.75" width="4.2" height="91.5" fill="#cfcfcf"/>
<path d="M279.3,446.7 L279.3,446.7 L279.5,446.7 L279.7,446.7 L279.9,446.7 L280.1,446.7 L280.3,446.7 L280.5,446.7 L280.7,446.7 L280.9,446.7 L281.1,446.7 L281.3,446.7 L281.5,446.7 L281.7,446.7 L281.9,446.7 L282.1,445.18 L282.3,442.41 L282.5,438.82 L282.7,434.57 L282.9,429.74 L283.1,424.41 L283.3,418.61 L283.5,412.38 L283.7,405.75 L283.9,398.74 L284.1,391.37 L284.3,383.66 L284.5,375.61 L284.7,367.26 L284.9,358.6 L285.1,354.6 L285.3,354.6 L285.5,354.6 L285.7,358.6 L285.9,367.26 L286.1,375.61 L286.3,383.66 L286.5,391.37 L286.7,398.74 L286.9,405.75 L287.1,412.38 L287.3,418.61 L287.5,424.41 L287.7,429.74 L287.9,434.57 L288.1,438.82 L288.3,442.41 L288.5,445.18 L288.7,446.7 L288.9,446.7 L289.1,446.7 L289.3,446.7 L289.5,446.7 L289.7,446.7 L289.9,446.7 L290.1,446.7 L290.3,446.7 L290.5,446.7 L290.7,446.7 L290.9,446.7 L291.1,446.7 L291.3,446.7 L291.3,446.7 Z" fill="#f4c9ae" fill-opacity="0.55"/>
<path d="M281.52,446.7 L281.52,446.59 L281.72,446.49 L281.92,446.31 L282.12,446 L282.32,445.48 L282.52,444.64 L282.72,443.34 L282.92,441.44 L283.12,438.74 L283.32,435.09 L283.52,430.38 L283.72,424.56 L283.92,417.74 L284.12,410.17 L284.32,402.27 L284.52,394.58 L284.72,387.73 L284.92,382.37 L285.12,379.02 L285.32,378.03 L285.52,379.5 L285.72,383.29 L285.92,389 L286.12,396.07 L286.32,403.85 L286.52,411.73 L286.72,419.18 L286.92,425.81 L287.12,431.41 L287.32,435.91 L287.52,439.35 L287.72,441.88 L287.92,443.65 L288.12,444.84 L288.32,445.6 L288.52,446.08 L288.72,446.36 L288.92,446.52 L288.92,446.7 Z" fill="#00973c" fill-opacity="0.45"/>
<path d="M280.26,446.7 L280.26,446.68 L280.46,446.68 L280.66,446.66 L280.86,446.64 L281.06,446.6 L281.26,446.55 L281.46,446.47 L281.66,446.37 L281.86,446.22 L282.06,446.03 L282.26,445.77 L282.46,445.45 L282.66,445.04 L282.86,444.55 L283.06,443.97 L283.26,443.31 L283.46,442.56 L283.66,441.76 L283.86,440.92 L284.06,440.07 L284.26,439.25 L284.46,438.5 L284.66,437.86 L284.86,437.36 L285.06,437.03 L285.26,436.89 L285.46,436.95 L285.66,437.21 L285.86,437.64 L286.06,438.23 L286.26,438.94 L286.46,439.74 L286.66,440.58 L286.86,441.43 L287.06,442.25 L287.26,443.02 L287.46,443.72 L287.66,444.33 L287.86,444.86 L288.06,445.29 L288.26,445.65 L288.46,445.93 L288.66,446.15 L288.86,446.31 L289.06,446.43 L289.26,446.52 L289.46,446.58 L289.66,446.62 L289.86,446.65 L290.06,446.67 L290.26,446.68 L290.26,446.7 Z" fill="#00973c" fill-opacity="0.45"/>
<path d="M278.82,446.7 L278.82,446.69 L279.02,446.69 L279.22,446.69 L279.42,446.68 L279.62,446.68 L279.82,446.67 L280.02,446.66 L280.22,446.64 L280.42,446.62 L280.62,446.59 L280.82,446.55 L281.02,446.51 L281.22,446.45 L281.42,446.38 L281.62,446.3 L281.82,446.2 L282.02,446.08 L282.22,445.94 L282.42,445.79 L282.62,445.62 L282.82,445.43 L283.02,445.23 L283.22,445.02 L283.42,444.8 L283.62,444.58 L283.82,444.37 L284.02,444.16 L284.22,443.97 L284.42,443.8 L284.62,443.65 L284.82,443.54 L285.02,443.47 L285.22,443.43 L285.42,443.44 L285.62,443.48 L285.82,443.56 L286.02,443.68 L286.22,443.83 L286.42,444 L286.62,444.2 L286.82,444.41 L287.02,444.63 L287.22,444.85 L287.42,445.07 L287.62,445.27 L287.82,445.47 L288.02,445.66 L288.22,445.82 L288.42,445.97 L288.62,446.1 L288.82,446.22 L289.02,446.31 L289.22,446.39 L289.42,446.46 L289.62,446.52 L289.82,446.56 L290.02,446.59 L290.22,446.62 L290.42,446.64 L290.62,446.66 L290.82,446.67 L291.02,446.68 L291.22,446.69 L291.42,446.69 L291.62,446.69 L291.62,446.7 Z" fill="#00973c" fill-opacity="0.45"/>
<path d="M279.3,446.7 L279.5,446.7 L279.7,446.7 L279.9,446.7 L280.1,446.7 L280.3,446.7 L280.5,446.7 L280.7,446.7 L280.9,446.7 L281.1,446.7 L281.3,446.7 L281.5,446.7 L281.7,446.7 L281.9,446.7 L282.1,445.18 L282.3,442.41 L282.5,438.82 L282.7,434.57 L282.9,429.74 L283.1,424.41 L283.3,418.61 L283.5,412.38 L283.7,405.75 L283.9,398.74 L284.1,391.37 L284.3,383.66 L284.5,375.61 L284.7,367.26 L284.9,358.6 L285.1,354.6 L285.3,354.6 L285.5,354.6 L285.7,358.6 L285.9,367.26 L286.1,375.61 L286.3,383.66 L286.5,391.37 L286.7,398.74 L286.9,405.75 L287.1,412.38 L287.3,418.61 L287.5,424.41 L287.7,429.74 L287.9,434.57 L288.1,438.82 L288.3,442.41 L288.5,445.18 L288.7,446.7 L288.9,446.7 L289.1,446.7 L289.3,446.7 L289.5,446.7 L289.7,446.7 L289.9,446.7 L290.1,446.7 L290.3,446.7 L290.5,446.7 L290.7,446.7 L290.9,446.7 L291.1,446.7 L291.3,446.7" fill="none" stroke="#e0603a" stroke-width="0.8"/>
<line x1="264.5" y1="354.3" x2="264.5" y2="447.1" stroke="#8c8c8c" stroke-width="0.9" />
<line x1="264.1" y1="446.7" x2="356.5" y2="446.7" stroke="#8c8c8c" stroke-width="0.9" />
<line x1="262.2" y1="446.7" x2="264.5" y2="446.7" stroke="#555" stroke-width="0.9" />
<text x="259.5" y="449" font-size="6.7" text-anchor="end" fill="#252525" font-weight="normal" >0</text>
<line x1="262.2" y1="430.35" x2="264.5" y2="430.35" stroke="#555" stroke-width="0.9" />
<text x="259.5" y="432.65" font-size="6.7" text-anchor="end" fill="#252525" font-weight="normal" >100</text>
<line x1="262.2" y1="413.99" x2="264.5" y2="413.99" stroke="#555" stroke-width="0.9" />
<text x="259.5" y="416.29" font-size="6.7" text-anchor="end" fill="#252525" font-weight="normal" >200</text>
<line x1="262.2" y1="397.64" x2="264.5" y2="397.64" stroke="#555" stroke-width="0.9" />
<text x="259.5" y="399.94" font-size="6.7" text-anchor="end" fill="#252525" font-weight="normal" >300</text>
<line x1="262.2" y1="381.28" x2="264.5" y2="381.28" stroke="#555" stroke-width="0.9" />
<text x="259.5" y="383.58" font-size="6.7" text-anchor="end" fill="#252525" font-weight="normal" >400</text>
<line x1="262.2" y1="364.93" x2="264.5" y2="364.93" stroke="#555" stroke-width="0.9" />
<text x="259.5" y="367.23" font-size="6.7" text-anchor="end" fill="#252525" font-weight="normal" >500</text>
<line x1="263.2" y1="442.61" x2="264.5" y2="442.61" stroke="#777" stroke-width="0.7" />
<line x1="263.2" y1="438.52" x2="264.5" y2="438.52" stroke="#777" stroke-width="0.7" />
<line x1="263.2" y1="434.43" x2="264.5" y2="434.43" stroke="#777" stroke-width="0.7" />
<line x1="263.2" y1="430.35" x2="264.5" y2="430.35" stroke="#777" stroke-width="0.7" />
<line x1="263.2" y1="426.26" x2="264.5" y2="426.26" stroke="#777" stroke-width="0.7" />
<line x1="263.2" y1="422.17" x2="264.5" y2="422.17" stroke="#777" stroke-width="0.7" />
<line x1="263.2" y1="418.08" x2="264.5" y2="418.08" stroke="#777" stroke-width="0.7" />
<line x1="263.2" y1="413.99" x2="264.5" y2="413.99" stroke="#777" stroke-width="0.7" />
<line x1="263.2" y1="409.9" x2="264.5" y2="409.9" stroke="#777" stroke-width="0.7" />
<line x1="263.2" y1="405.82" x2="264.5" y2="405.82" stroke="#777" stroke-width="0.7" />
<line x1="263.2" y1="401.73" x2="264.5" y2="401.73" stroke="#777" stroke-width="0.7" />
<line x1="263.2" y1="397.64" x2="264.5" y2="397.64" stroke="#777" stroke-width="0.7" />
<line x1="263.2" y1="393.55" x2="264.5" y2="393.55" stroke="#777" stroke-width="0.7" />
<line x1="263.2" y1="389.46" x2="264.5" y2="389.46" stroke="#777" stroke-width="0.7" />
<line x1="263.2" y1="385.37" x2="264.5" y2="385.37" stroke="#777" stroke-width="0.7" />
<line x1="263.2" y1="381.28" x2="264.5" y2="381.28" stroke="#777" stroke-width="0.7" />
<line x1="263.2" y1="377.2" x2="264.5" y2="377.2" stroke="#777" stroke-width="0.7" />
<line x1="263.2" y1="373.11" x2="264.5" y2="373.11" stroke="#777" stroke-width="0.7" />
<line x1="263.2" y1="369.02" x2="264.5" y2="369.02" stroke="#777" stroke-width="0.7" />
<line x1="263.2" y1="364.93" x2="264.5" y2="364.93" stroke="#777" stroke-width="0.7" />
<line x1="263.2" y1="360.84" x2="264.5" y2="360.84" stroke="#777" stroke-width="0.7" />
<line x1="263.2" y1="356.75" x2="264.5" y2="356.75" stroke="#777" stroke-width="0.7" />
<line x1="270.8" y1="446.7" x2="270.8" y2="448.7" stroke="#555" stroke-width="0.9" />
<text x="270.8" y="457.6" font-size="6.6" text-anchor="middle" fill="#252525">–10<tspan font-size="4.4" dy="-2.7">3</tspan></text>
<line x1="285.8" y1="446.7" x2="285.8" y2="448.7" stroke="#555" stroke-width="0.9" />
<text x="285.8" y="457.6" font-size="6.6" text-anchor="middle" fill="#252525">0</text>
<line x1="300.3" y1="446.7" x2="300.3" y2="448.7" stroke="#555" stroke-width="0.9" />
<text x="300.3" y="457.6" font-size="6.6" text-anchor="middle" fill="#252525">10<tspan font-size="4.4" dy="-2.7">3</tspan></text>
<line x1="327.3" y1="446.7" x2="327.3" y2="448.7" stroke="#555" stroke-width="0.9" />
<text x="327.3" y="457.6" font-size="6.6" text-anchor="middle" fill="#252525">10<tspan font-size="4.4" dy="-2.7">4</tspan></text>
<line x1="349.1" y1="446.7" x2="349.1" y2="448.7" stroke="#555" stroke-width="0.9" />
<text x="349.1" y="457.6" font-size="6.6" text-anchor="middle" fill="#252525">10<tspan font-size="4.4" dy="-2.7">5</tspan></text>
<line x1="266.5" y1="446.7" x2="266.5" y2="447.9" stroke="#777" stroke-width="0.7" />
<line x1="274.5" y1="446.7" x2="274.5" y2="447.9" stroke="#777" stroke-width="0.7" />
<line x1="278.5" y1="446.7" x2="278.5" y2="447.9" stroke="#777" stroke-width="0.7" />
<line x1="282.5" y1="446.7" x2="282.5" y2="447.9" stroke="#777" stroke-width="0.7" />
<line x1="290.5" y1="446.7" x2="290.5" y2="447.9" stroke="#777" stroke-width="0.7" />
<line x1="294.5" y1="446.7" x2="294.5" y2="447.9" stroke="#777" stroke-width="0.7" />
<line x1="309.5" y1="446.7" x2="309.5" y2="447.9" stroke="#777" stroke-width="0.7" />
<line x1="316.5" y1="446.7" x2="316.5" y2="447.9" stroke="#777" stroke-width="0.7" />
<line x1="320.5" y1="446.7" x2="320.5" y2="447.9" stroke="#777" stroke-width="0.7" />
<line x1="323.5" y1="446.7" x2="323.5" y2="447.9" stroke="#777" stroke-width="0.7" />
<line x1="325.5" y1="446.7" x2="325.5" y2="447.9" stroke="#777" stroke-width="0.7" />
<line x1="334.5" y1="446.7" x2="334.5" y2="447.9" stroke="#777" stroke-width="0.7" />
<line x1="339.5" y1="446.7" x2="339.5" y2="447.9" stroke="#777" stroke-width="0.7" />
<line x1="342.5" y1="446.7" x2="342.5" y2="447.9" stroke="#777" stroke-width="0.7" />
<line x1="345.5" y1="446.7" x2="345.5" y2="447.9" stroke="#777" stroke-width="0.7" />
<line x1="348" y1="446.7" x2="348" y2="447.9" stroke="#777" stroke-width="0.7" />
<line x1="353.5" y1="446.7" x2="353.5" y2="447.9" stroke="#777" stroke-width="0.7" />
<text x="310.5" y="469.5" font-size="8.2" text-anchor="middle" fill="#252525" textLength="59" lengthAdjust="spacingAndGlyphs">Comp-V450-A :: CTV</text>
<text transform="translate(243.4,400.5) rotate(-90)" font-size="8.3" text-anchor="middle" fill="#252525" textLength="19" lengthAdjust="spacingAndGlyphs">Count</text>
<text x="352.5" y="365.6" font-size="6.5" text-anchor="end" fill="#252525">Undivided</text>
<line x1="344.1" y1="372.2" x2="347.9" y2="372.2" stroke="#222" stroke-width="1.0" />
<line x1="344.1" y1="370.6" x2="344.1" y2="373.8" stroke="#222" stroke-width="1.1" />
<line x1="347.9" y1="370.6" x2="347.9" y2="373.8" stroke="#222" stroke-width="1.1" />
<rect x="283.5" y="445.8" width="4.4" height="1.9" fill="#111"/>
<rect x="261.8" y="489.6" width="96.2" height="96.2" fill="#fff" stroke="#8a8a8a" stroke-width="0.9"/>
<rect x="345.5" y="490.05" width="5" height="95.3" fill="#cfcfcf"/>
<path d="M278.4,585.8 L278.4,584.76 L278.6,584.43 L278.8,584.02 L279,583.49 L279.2,582.83 L279.4,582 L279.6,580.99 L279.8,579.76 L280,578.28 L280.2,576.53 L280.4,574.46 L280.6,572.06 L280.8,569.31 L281,566.2 L281.2,562.72 L281.4,558.88 L281.6,554.69 L281.8,550.2 L282,545.44 L282.2,540.48 L282.4,535.4 L282.6,530.28 L282.8,525.21 L283,520.3 L283.2,515.64 L283.4,511.33 L283.6,507.46 L283.8,504.12 L284,501.36 L284.2,499.22 L284.4,497.73 L284.6,499.22 L284.8,501.36 L285,504.12 L285.2,507.46 L285.4,511.33 L285.6,515.64 L285.8,520.3 L286,525.21 L286.2,530.28 L286.4,535.4 L286.6,540.48 L286.8,545.44 L287,550.2 L287.2,554.69 L287.4,558.88 L287.6,562.72 L287.8,566.2 L288,569.31 L288.2,572.06 L288.4,574.46 L288.6,576.53 L288.8,578.28 L289,579.76 L289.2,580.99 L289.4,582 L289.6,582.83 L289.8,583.49 L290,584.02 L290.2,584.43 L290.4,584.76 L290.4,585.8 Z" fill="#f4c9ae" fill-opacity="0.55"/>
<path d="M277.92,585.8 L277.92,585.72 L278.12,585.68 L278.32,585.63 L278.52,585.55 L278.72,585.44 L278.92,585.29 L279.12,585.09 L279.32,584.83 L279.52,584.48 L279.72,584.02 L279.92,583.44 L280.12,582.71 L280.32,581.8 L280.52,580.68 L280.72,579.34 L280.92,577.74 L281.12,575.87 L281.32,573.71 L281.52,571.27 L281.72,568.55 L281.92,565.57 L282.12,562.37 L282.32,558.99 L282.52,555.51 L282.72,551.99 L282.92,548.53 L283.12,545.21 L283.32,542.15 L283.52,539.43 L283.72,537.14 L283.92,535.36 L284.12,534.17 L284.32,533.59 L284.52,533.65 L284.72,534.36 L284.92,535.67 L285.12,537.56 L285.32,539.94 L285.52,542.74 L285.72,545.86 L285.92,549.21 L286.12,552.69 L286.32,556.21 L286.52,559.68 L286.72,563.03 L286.92,566.19 L287.12,569.11 L287.32,571.78 L287.52,574.16 L287.72,576.26 L287.92,578.08 L288.12,579.62 L288.32,580.92 L288.52,581.99 L288.72,582.87 L288.92,583.57 L289.12,584.12 L289.32,584.55 L289.52,584.89 L289.72,585.14 L289.92,585.33 L290.12,585.46 L290.32,585.57 L290.52,585.64 L290.72,585.69 L290.72,585.8 Z" fill="#00973c" fill-opacity="0.45"/>
<path d="M277.92,585.8 L277.92,585.76 L278.12,585.74 L278.32,585.71 L278.52,585.67 L278.72,585.61 L278.92,585.54 L279.12,585.43 L279.32,585.29 L279.52,585.11 L279.72,584.88 L279.92,584.58 L280.12,584.2 L280.32,583.72 L280.52,583.15 L280.72,582.45 L280.92,581.62 L281.12,580.65 L281.32,579.53 L281.52,578.27 L281.72,576.86 L281.92,575.31 L282.12,573.65 L282.32,571.9 L282.52,570.09 L282.72,568.27 L282.92,566.47 L283.12,564.76 L283.32,563.17 L283.52,561.75 L283.72,560.57 L283.92,559.65 L284.12,559.03 L284.32,558.73 L284.52,558.76 L284.72,559.13 L284.92,559.81 L285.12,560.78 L285.32,562.02 L285.52,563.47 L285.72,565.09 L285.92,566.83 L286.12,568.63 L286.32,570.46 L286.52,572.26 L286.72,573.99 L286.92,575.63 L287.12,577.15 L287.32,578.53 L287.52,579.77 L287.72,580.85 L287.92,581.8 L288.12,582.6 L288.32,583.27 L288.52,583.83 L288.72,584.28 L288.92,584.64 L289.12,584.93 L289.32,585.15 L289.52,585.33 L289.72,585.46 L289.92,585.55 L290.12,585.63 L290.32,585.68 L290.52,585.72 L290.72,585.74 L290.72,585.8 Z" fill="#00973c" fill-opacity="0.45"/>
<path d="M277.2,585.8 L277.2,585.78 L277.4,585.77 L277.6,585.76 L277.8,585.75 L278,585.73 L278.2,585.7 L278.4,585.67 L278.6,585.63 L278.8,585.57 L279,585.5 L279.2,585.4 L279.4,585.29 L279.6,585.15 L279.8,584.98 L280,584.77 L280.2,584.52 L280.4,584.23 L280.6,583.89 L280.8,583.5 L281,583.06 L281.2,582.57 L281.4,582.03 L281.6,581.44 L281.8,580.81 L282,580.15 L282.2,579.46 L282.4,578.76 L282.6,578.05 L282.8,577.37 L283,576.71 L283.2,576.1 L283.4,575.55 L283.6,575.08 L283.8,574.7 L284,574.42 L284.2,574.24 L284.4,574.19 L284.6,574.24 L284.8,574.42 L285,574.7 L285.2,575.08 L285.4,575.55 L285.6,576.1 L285.8,576.71 L286,577.37 L286.2,578.05 L286.4,578.76 L286.6,579.46 L286.8,580.15 L287,580.81 L287.2,581.44 L287.4,582.03 L287.6,582.57 L287.8,583.06 L288,583.5 L288.2,583.89 L288.4,584.23 L288.6,584.52 L288.8,584.77 L289,584.98 L289.2,585.15 L289.4,585.29 L289.6,585.4 L289.8,585.5 L290,585.57 L290.2,585.63 L290.4,585.67 L290.6,585.7 L290.8,585.73 L291,585.75 L291.2,585.76 L291.4,585.77 L291.6,585.78 L291.6,585.8 Z" fill="#00973c" fill-opacity="0.45"/>
<path d="M278.4,584.76 L278.6,584.43 L278.8,584.02 L279,583.49 L279.2,582.83 L279.4,582 L279.6,580.99 L279.8,579.76 L280,578.28 L280.2,576.53 L280.4,574.46 L280.6,572.06 L280.8,569.31 L281,566.2 L281.2,562.72 L281.4,558.88 L281.6,554.69 L281.8,550.2 L282,545.44 L282.2,540.48 L282.4,535.4 L282.6,530.28 L282.8,525.21 L283,520.3 L283.2,515.64 L283.4,511.33 L283.6,507.46 L283.8,504.12 L284,501.36 L284.2,499.22 L284.4,497.73 L284.6,499.22 L284.8,501.36 L285,504.12 L285.2,507.46 L285.4,511.33 L285.6,515.64 L285.8,520.3 L286,525.21 L286.2,530.28 L286.4,535.4 L286.6,540.48 L286.8,545.44 L287,550.2 L287.2,554.69 L287.4,558.88 L287.6,562.72 L287.8,566.2 L288,569.31 L288.2,572.06 L288.4,574.46 L288.6,576.53 L288.8,578.28 L289,579.76 L289.2,580.99 L289.4,582 L289.6,582.83 L289.8,583.49 L290,584.02 L290.2,584.43 L290.4,584.76" fill="none" stroke="#e0585a" stroke-width="0.8"/>
<line x1="261.8" y1="489.6" x2="261.8" y2="586.2" stroke="#8c8c8c" stroke-width="0.9" />
<line x1="261.4" y1="585.8" x2="358" y2="585.8" stroke="#8c8c8c" stroke-width="0.9" />
<line x1="259.5" y1="585.8" x2="261.8" y2="585.8" stroke="#555" stroke-width="0.9" />
<text x="256.8" y="588.1" font-size="6.7" text-anchor="end" fill="#252525" font-weight="normal" >0</text>
<line x1="259.5" y1="566.44" x2="261.8" y2="566.44" stroke="#555" stroke-width="0.9" />
<text x="256.8" y="568.74" font-size="6.7" text-anchor="end" fill="#252525" font-weight="normal" >100</text>
<line x1="259.5" y1="547.09" x2="261.8" y2="547.09" stroke="#555" stroke-width="0.9" />
<text x="256.8" y="549.39" font-size="6.7" text-anchor="end" fill="#252525" font-weight="normal" >200</text>
<line x1="259.5" y1="527.73" x2="261.8" y2="527.73" stroke="#555" stroke-width="0.9" />
<text x="256.8" y="530.03" font-size="6.7" text-anchor="end" fill="#252525" font-weight="normal" >300</text>
<line x1="259.5" y1="508.38" x2="261.8" y2="508.38" stroke="#555" stroke-width="0.9" />
<text x="256.8" y="510.68" font-size="6.7" text-anchor="end" fill="#252525" font-weight="normal" >400</text>
<line x1="260.5" y1="580.96" x2="261.8" y2="580.96" stroke="#777" stroke-width="0.7" />
<line x1="260.5" y1="576.12" x2="261.8" y2="576.12" stroke="#777" stroke-width="0.7" />
<line x1="260.5" y1="571.28" x2="261.8" y2="571.28" stroke="#777" stroke-width="0.7" />
<line x1="260.5" y1="566.44" x2="261.8" y2="566.44" stroke="#777" stroke-width="0.7" />
<line x1="260.5" y1="561.6" x2="261.8" y2="561.6" stroke="#777" stroke-width="0.7" />
<line x1="260.5" y1="556.77" x2="261.8" y2="556.77" stroke="#777" stroke-width="0.7" />
<line x1="260.5" y1="551.93" x2="261.8" y2="551.93" stroke="#777" stroke-width="0.7" />
<line x1="260.5" y1="547.09" x2="261.8" y2="547.09" stroke="#777" stroke-width="0.7" />
<line x1="260.5" y1="542.25" x2="261.8" y2="542.25" stroke="#777" stroke-width="0.7" />
<line x1="260.5" y1="537.41" x2="261.8" y2="537.41" stroke="#777" stroke-width="0.7" />
<line x1="260.5" y1="532.57" x2="261.8" y2="532.57" stroke="#777" stroke-width="0.7" />
<line x1="260.5" y1="527.73" x2="261.8" y2="527.73" stroke="#777" stroke-width="0.7" />
<line x1="260.5" y1="522.89" x2="261.8" y2="522.89" stroke="#777" stroke-width="0.7" />
<line x1="260.5" y1="518.05" x2="261.8" y2="518.05" stroke="#777" stroke-width="0.7" />
<line x1="260.5" y1="513.21" x2="261.8" y2="513.21" stroke="#777" stroke-width="0.7" />
<line x1="260.5" y1="508.38" x2="261.8" y2="508.38" stroke="#777" stroke-width="0.7" />
<line x1="260.5" y1="503.54" x2="261.8" y2="503.54" stroke="#777" stroke-width="0.7" />
<line x1="260.5" y1="498.7" x2="261.8" y2="498.7" stroke="#777" stroke-width="0.7" />
<line x1="260.5" y1="493.86" x2="261.8" y2="493.86" stroke="#777" stroke-width="0.7" />
<line x1="268.1" y1="585.8" x2="268.1" y2="587.8" stroke="#555" stroke-width="0.9" />
<text x="268.1" y="596.7" font-size="6.6" text-anchor="middle" fill="#252525">–10<tspan font-size="4.4" dy="-2.7">3</tspan></text>
<line x1="283.1" y1="585.8" x2="283.1" y2="587.8" stroke="#555" stroke-width="0.9" />
<text x="283.1" y="596.7" font-size="6.6" text-anchor="middle" fill="#252525">0</text>
<line x1="297.6" y1="585.8" x2="297.6" y2="587.8" stroke="#555" stroke-width="0.9" />
<text x="297.6" y="596.7" font-size="6.6" text-anchor="middle" fill="#252525">10<tspan font-size="4.4" dy="-2.7">3</tspan></text>
<line x1="324.6" y1="585.8" x2="324.6" y2="587.8" stroke="#555" stroke-width="0.9" />
<text x="324.6" y="596.7" font-size="6.6" text-anchor="middle" fill="#252525">10<tspan font-size="4.4" dy="-2.7">4</tspan></text>
<line x1="346.4" y1="585.8" x2="346.4" y2="587.8" stroke="#555" stroke-width="0.9" />
<text x="346.4" y="596.7" font-size="6.6" text-anchor="middle" fill="#252525">10<tspan font-size="4.4" dy="-2.7">5</tspan></text>
<line x1="263.8" y1="585.8" x2="263.8" y2="587" stroke="#777" stroke-width="0.7" />
<line x1="271.8" y1="585.8" x2="271.8" y2="587" stroke="#777" stroke-width="0.7" />
<line x1="275.8" y1="585.8" x2="275.8" y2="587" stroke="#777" stroke-width="0.7" />
<line x1="279.8" y1="585.8" x2="279.8" y2="587" stroke="#777" stroke-width="0.7" />
<line x1="287.8" y1="585.8" x2="287.8" y2="587" stroke="#777" stroke-width="0.7" />
<line x1="291.8" y1="585.8" x2="291.8" y2="587" stroke="#777" stroke-width="0.7" />
<line x1="306.8" y1="585.8" x2="306.8" y2="587" stroke="#777" stroke-width="0.7" />
<line x1="313.8" y1="585.8" x2="313.8" y2="587" stroke="#777" stroke-width="0.7" />
<line x1="317.8" y1="585.8" x2="317.8" y2="587" stroke="#777" stroke-width="0.7" />
<line x1="320.8" y1="585.8" x2="320.8" y2="587" stroke="#777" stroke-width="0.7" />
<line x1="322.8" y1="585.8" x2="322.8" y2="587" stroke="#777" stroke-width="0.7" />
<line x1="331.8" y1="585.8" x2="331.8" y2="587" stroke="#777" stroke-width="0.7" />
<line x1="336.8" y1="585.8" x2="336.8" y2="587" stroke="#777" stroke-width="0.7" />
<line x1="339.8" y1="585.8" x2="339.8" y2="587" stroke="#777" stroke-width="0.7" />
<line x1="342.8" y1="585.8" x2="342.8" y2="587" stroke="#777" stroke-width="0.7" />
<line x1="345.3" y1="585.8" x2="345.3" y2="587" stroke="#777" stroke-width="0.7" />
<line x1="350.8" y1="585.8" x2="350.8" y2="587" stroke="#777" stroke-width="0.7" />
<text x="309.9" y="608.6" font-size="8.2" text-anchor="middle" fill="#252525" textLength="59" lengthAdjust="spacingAndGlyphs">Comp-V450-A :: CTV</text>
<text transform="translate(241.2,537.7) rotate(-90)" font-size="8.3" text-anchor="middle" fill="#252525" textLength="19" lengthAdjust="spacingAndGlyphs">Count</text>
<text x="354.6" y="502.6" font-size="6.5" text-anchor="end" fill="#252525">Undivided</text>
<line x1="345.7" y1="507.9" x2="350.3" y2="507.9" stroke="#222" stroke-width="1.0" />
<line x1="345.7" y1="506.3" x2="345.7" y2="509.5" stroke="#222" stroke-width="1.1" />
<line x1="350.3" y1="506.3" x2="350.3" y2="509.5" stroke="#222" stroke-width="1.1" />
<rect x="280.8" y="584.9" width="4.4" height="1.9" fill="#111"/>
<rect x="402.3" y="216.5" width="95.7" height="93.3" fill="#fff" stroke="#8a8a8a" stroke-width="0.9"/>
<path d="M403.5,309.8 L403.5,309.8 L404.12,309.35 L404.75,308.9 L405.38,308.45 L406,308.51 L406.6,307.43 L407.2,307.3 L407.8,306.35 L408.4,305.82 L409,306.5 L409.6,306.03 L410.2,303.68 L410.8,304.32 L411.4,303.78 L412,301.5 L412.67,301.87 L413.33,300.22 L414,300.26 L414.67,298.67 L415.33,298.66 L416,296.26 L416.67,293.63 L417.33,292.54 L418,289.92 L418.8,286.48 L419.6,284.79 L420.4,278.93 L421.1,275.88 L421.8,273.34 L422.5,270.83 L423.2,262.68 L423.9,259.52 L424.6,253.59 L425.3,247.35 L426,242.69 L427,245.3 L427.8,238.37 L428.8,239.81 L429.8,235.71 L430.6,237.87 L431.2,219.83 L431.8,240 L432.8,237.43 L433.8,242.9 L434.6,245.08 L435.4,262.07 L436.3,279.37 L437.2,295.91 L438,304.98 L439,309.8 L439,309.8 Z" fill="#72a0da" stroke="#31539a" stroke-width="0.7"/>
<path d="M428,309.8 L428,309.8 L428.67,309.6 L429.33,309.4 L430,309.2 L430.67,309 L431.33,308.8 L432,308.76 L432.67,308.41 L433.33,307.68 L434,307.28 L434.67,306.42 L435.33,306.33 L436,305.57 L436.6,304.95 L437.2,304.01 L437.8,303.77 L438.4,303.85 L439,302.02 L439.67,300.69 L440.34,299.62 L441.01,299.03 L441.69,297.63 L442.36,297.38 L443.03,295.09 L443.7,294.42 L444.36,293.7 L445.02,292.88 L445.68,290.03 L446.34,288.46 L447,289.07 L447.62,286.8 L448.25,286.89 L448.88,286.72 L449.5,285.66 L450.23,283.83 L450.97,282.83 L451.7,283.97 L452.35,283.5 L453,285.62 L453.6,284.47 L454.2,285.7 L454.8,284.84 L455.4,284.98 L456,286.39 L456.6,286.17 L457.2,288.48 L457.8,289.81 L458.4,289.55 L459,291.55 L459.6,292.05 L460.2,292.46 L460.8,292.91 L461.4,294.62 L462,295.66 L462.6,294.84 L463.2,296.58 L463.8,296.13 L464.4,296.97 L465,298.61 L465.6,299.07 L466.2,299.57 L466.8,299.96 L467.4,300.64 L468,301.3 L468.6,301.68 L469.2,301.65 L469.8,302.83 L470.4,303.43 L471,303.46 L471.67,304.61 L472.33,304.9 L473,304.28 L473.67,305.37 L474.33,305.73 L475,306.92 L475.62,306.55 L476.25,306.53 L476.88,307.57 L477.5,306.93 L478.12,307.14 L478.75,308.18 L479.38,307.59 L480,308.05 L480.62,307.9 L481.25,308.51 L481.88,308.16 L482.5,308.27 L483.12,309.41 L483.75,309.5 L484.38,308.81 L485,308.57 L485.67,309.64 L486.33,309.46 L487,309.5 L487.67,309.6 L488.33,309.7 L489,309.8 L489,309.8 Z" fill="#f4837a" fill-opacity="0.95" stroke="#bd3b3b" stroke-width="0.65" stroke-dasharray="0.8,0.5"/>
<line x1="402.3" y1="216.5" x2="402.3" y2="310.2" stroke="#8c8c8c" stroke-width="0.9" />
<line x1="401.9" y1="309.8" x2="498" y2="309.8" stroke="#8c8c8c" stroke-width="0.9" />
<line x1="400" y1="309.8" x2="402.3" y2="309.8" stroke="#555" stroke-width="0.9" />
<text x="397.3" y="312.1" font-size="6.7" text-anchor="end" fill="#252525" font-weight="normal" >0</text>
<line x1="400" y1="285.8" x2="402.3" y2="285.8" stroke="#555" stroke-width="0.9" />
<text x="397.3" y="288.1" font-size="6.7" text-anchor="end" fill="#252525" font-weight="normal" >20</text>
<line x1="400" y1="261.8" x2="402.3" y2="261.8" stroke="#555" stroke-width="0.9" />
<text x="397.3" y="264.1" font-size="6.7" text-anchor="end" fill="#252525" font-weight="normal" >40</text>
<line x1="400" y1="237.8" x2="402.3" y2="237.8" stroke="#555" stroke-width="0.9" />
<text x="397.3" y="240.1" font-size="6.7" text-anchor="end" fill="#252525" font-weight="normal" >60</text>
<line x1="401" y1="297.8" x2="402.3" y2="297.8" stroke="#777" stroke-width="0.7" />
<line x1="401" y1="285.8" x2="402.3" y2="285.8" stroke="#777" stroke-width="0.7" />
<line x1="401" y1="273.8" x2="402.3" y2="273.8" stroke="#777" stroke-width="0.7" />
<line x1="401" y1="261.8" x2="402.3" y2="261.8" stroke="#777" stroke-width="0.7" />
<line x1="401" y1="249.8" x2="402.3" y2="249.8" stroke="#777" stroke-width="0.7" />
<line x1="401" y1="237.8" x2="402.3" y2="237.8" stroke="#777" stroke-width="0.7" />
<line x1="401" y1="225.8" x2="402.3" y2="225.8" stroke="#777" stroke-width="0.7" />
<line x1="413.4" y1="309.8" x2="413.4" y2="311.8" stroke="#555" stroke-width="0.9" />
<text x="413.4" y="320.7" font-size="6.6" text-anchor="middle" fill="#252525">10<tspan font-size="4.4" dy="-2.7">1</tspan></text>
<line x1="432.4" y1="309.8" x2="432.4" y2="311.8" stroke="#555" stroke-width="0.9" />
<text x="432.4" y="320.7" font-size="6.6" text-anchor="middle" fill="#252525">10<tspan font-size="4.4" dy="-2.7">2</tspan></text>
<line x1="450.9" y1="309.8" x2="450.9" y2="311.8" stroke="#555" stroke-width="0.9" />
<text x="450.9" y="320.7" font-size="6.6" text-anchor="middle" fill="#252525">10<tspan font-size="4.4" dy="-2.7">3</tspan></text>
<line x1="469.9" y1="309.8" x2="469.9" y2="311.8" stroke="#555" stroke-width="0.9" />
<text x="469.9" y="320.7" font-size="6.6" text-anchor="middle" fill="#252525">10<tspan font-size="4.4" dy="-2.7">4</tspan></text>
<line x1="488.9" y1="309.8" x2="488.9" y2="311.8" stroke="#555" stroke-width="0.9" />
<text x="488.9" y="320.7" font-size="6.6" text-anchor="middle" fill="#252525">10<tspan font-size="4.4" dy="-2.7">5</tspan></text>
<text x="450.15" y="332.6" font-size="8.2" text-anchor="middle" fill="#252525" textLength="59" lengthAdjust="spacingAndGlyphs">Comp-V450-A :: CTV</text>
<text transform="translate(385.9,263.15) rotate(-90)" font-size="8.3" text-anchor="middle" fill="#252525" textLength="19" lengthAdjust="spacingAndGlyphs">Count</text>
<line x1="402.3" y1="216.5" x2="498" y2="216.5" stroke="#8a8a8a" stroke-width="0.9" />
<line x1="498" y1="216.5" x2="498" y2="309.8" stroke="#8a8a8a" stroke-width="0.9" />
<rect x="401.8" y="350.5" width="96.2" height="96.2" fill="#fff" stroke="#8a8a8a" stroke-width="0.9"/>
<path d="M424,446.7 L424,446.7 L424.67,446.47 L425.33,446.25 L426,446.02 L426.67,445.79 L427.33,445.57 L428,445.15 L428.62,445.19 L429.25,444.6 L429.88,444.19 L430.5,443.57 L431.23,441.5 L431.97,440.57 L432.7,438.82 L433.3,436.05 L433.9,436.09 L434.5,432.9 L435.17,429.72 L435.83,428.18 L436.5,425.75 L437.25,419.51 L438,416.97 L438.7,412.12 L439.4,406.11 L440.4,394.75 L441.3,388.75 L442.3,381.59 L443.3,374.1 L444,372.69 L444.6,371.48 L445.3,367.02 L445.8,368.33 L446.3,364.63 L446.7,354.5 L447.2,357.14 L447.7,363.94 L448.5,376.73 L449.6,400.01 L450.6,420.73 L451.5,439.25 L452.3,444.73 L453,446.7 L453,446.7 Z" fill="#72a0da" stroke="#31539a" stroke-width="0.7"/>
<path d="M446,446.7 L446,446.7 L446.6,446.16 L447.2,445.61 L447.8,445.07 L448.4,444.52 L449,443.47 L449.67,442.65 L450.33,440.7 L451,438.01 L451.67,436.7 L452.33,434.8 L453,434.05 L453.67,432.88 L454.33,431 L455,428.4 L455.7,428.11 L456.4,426.6 L457.1,425.09 L457.73,426.22 L458.37,427.37 L459,427.46 L459.67,430.59 L460.33,432.45 L461,432.25 L461.62,433.75 L462.25,434.94 L462.88,437.28 L463.5,437.77 L464.12,439.02 L464.75,441.36 L465.38,441.72 L466,442.79 L466.67,443.85 L467.33,444.86 L468,445.98 L468.75,446.41 L469.5,446.7 L469.5,446.7 Z" fill="#f4837a" fill-opacity="0.95" stroke="#bd3b3b" stroke-width="0.65" stroke-dasharray="0.8,0.5"/>
<line x1="401.8" y1="350.5" x2="401.8" y2="447.1" stroke="#8c8c8c" stroke-width="0.9" />
<line x1="401.4" y1="446.7" x2="498" y2="446.7" stroke="#8c8c8c" stroke-width="0.9" />
<line x1="399.5" y1="446.7" x2="401.8" y2="446.7" stroke="#555" stroke-width="0.9" />
<text x="396.8" y="449" font-size="6.7" text-anchor="end" fill="#252525" font-weight="normal" >0</text>
<line x1="399.5" y1="426.28" x2="401.8" y2="426.28" stroke="#555" stroke-width="0.9" />
<text x="396.8" y="428.58" font-size="6.7" text-anchor="end" fill="#252525" font-weight="normal" >30</text>
<line x1="399.5" y1="405.85" x2="401.8" y2="405.85" stroke="#555" stroke-width="0.9" />
<text x="396.8" y="408.15" font-size="6.7" text-anchor="end" fill="#252525" font-weight="normal" >60</text>
<line x1="399.5" y1="385.43" x2="401.8" y2="385.43" stroke="#555" stroke-width="0.9" />
<text x="396.8" y="387.73" font-size="6.7" text-anchor="end" fill="#252525" font-weight="normal" >90</text>
<line x1="399.5" y1="365" x2="401.8" y2="365" stroke="#555" stroke-width="0.9" />
<text x="396.8" y="367.3" font-size="6.7" text-anchor="end" fill="#252525" font-weight="normal" >120</text>
<line x1="400.5" y1="436.49" x2="401.8" y2="436.49" stroke="#777" stroke-width="0.7" />
<line x1="400.5" y1="426.28" x2="401.8" y2="426.28" stroke="#777" stroke-width="0.7" />
<line x1="400.5" y1="416.06" x2="401.8" y2="416.06" stroke="#777" stroke-width="0.7" />
<line x1="400.5" y1="405.85" x2="401.8" y2="405.85" stroke="#777" stroke-width="0.7" />
<line x1="400.5" y1="395.64" x2="401.8" y2="395.64" stroke="#777" stroke-width="0.7" />
<line x1="400.5" y1="385.43" x2="401.8" y2="385.43" stroke="#777" stroke-width="0.7" />
<line x1="400.5" y1="375.21" x2="401.8" y2="375.21" stroke="#777" stroke-width="0.7" />
<line x1="400.5" y1="365" x2="401.8" y2="365" stroke="#777" stroke-width="0.7" />
<line x1="400.5" y1="354.79" x2="401.8" y2="354.79" stroke="#777" stroke-width="0.7" />
<line x1="406.3" y1="446.7" x2="406.3" y2="448.7" stroke="#555" stroke-width="0.9" />
<text x="406.3" y="457.6" font-size="6.6" text-anchor="middle" fill="#252525">10<tspan font-size="4.4" dy="-2.7">-3</tspan></text>
<line x1="422.8" y1="446.7" x2="422.8" y2="448.7" stroke="#555" stroke-width="0.9" />
<text x="422.8" y="457.6" font-size="6.6" text-anchor="middle" fill="#252525">10<tspan font-size="4.4" dy="-2.7">-1</tspan></text>
<line x1="440.3" y1="446.7" x2="440.3" y2="448.7" stroke="#555" stroke-width="0.9" />
<text x="440.3" y="457.6" font-size="6.6" text-anchor="middle" fill="#252525">10<tspan font-size="4.4" dy="-2.7">1</tspan></text>
<line x1="457.2" y1="446.7" x2="457.2" y2="448.7" stroke="#555" stroke-width="0.9" />
<text x="457.2" y="457.6" font-size="6.6" text-anchor="middle" fill="#252525">10<tspan font-size="4.4" dy="-2.7">3</tspan></text>
<line x1="472.3" y1="446.7" x2="472.3" y2="448.7" stroke="#555" stroke-width="0.9" />
<text x="472.3" y="457.6" font-size="6.6" text-anchor="middle" fill="#252525">10<tspan font-size="4.4" dy="-2.7">5</tspan></text>
<line x1="489.5" y1="446.7" x2="489.5" y2="448.7" stroke="#555" stroke-width="0.9" />
<text x="489.5" y="457.6" font-size="6.6" text-anchor="middle" fill="#252525">10<tspan font-size="4.4" dy="-2.7">7</tspan></text>
<text x="449.9" y="469.5" font-size="8.2" text-anchor="middle" fill="#252525" textLength="59" lengthAdjust="spacingAndGlyphs">Comp-V450-A :: CTV</text>
<text transform="translate(381.8,398.6) rotate(-90)" font-size="8.3" text-anchor="middle" fill="#252525" textLength="19" lengthAdjust="spacingAndGlyphs">Count</text>
<line x1="401.8" y1="350.5" x2="498" y2="350.5" stroke="#8a8a8a" stroke-width="0.9" />
<line x1="498" y1="350.5" x2="498" y2="446.7" stroke="#8a8a8a" stroke-width="0.9" />
<rect x="401.7" y="490.7" width="97" height="95.1" fill="#fff" stroke="#8a8a8a" stroke-width="0.9"/>
<path d="M435.3,585.8 L435.3,585.8 L436.15,585.01 L437,584.75 L437.75,584.06 L438.5,581.97 L439.5,584.32 L440.4,582.63 L441.2,582.33 L442,578.56 L442.65,577.03 L443.3,574.47 L444.5,573.73 L445.35,571.7 L446.2,570.54 L446.85,570.1 L447.5,566.08 L448.25,563.97 L449,559.82 L450,555.13 L451,547.67 L452,541.78 L452.5,534.1 L453.2,521.83 L453.8,513.77 L454.8,506.75 L455.3,506.04 L455.8,498.77 L456.3,504.89 L456.7,513.71 L457.7,525.96 L458.7,541.59 L459.6,558.15 L460.6,575.51 L461.5,583.64 L462.1,585.8 L462.1,585.8 Z" fill="#72a0da" stroke="#31539a" stroke-width="0.7"/>
<path d="M468.3,585.8 L468.3,585.8 L469.15,585.17 L470,583.94 L470.67,583.67 L471.33,583.22 L472,583.98 L472.75,582.6 L473.5,581.77 L474.25,582.52 L475,581.71 L475.75,581.95 L476.5,581.8 L477.25,582.19 L478,582.35 L478.67,582.27 L479.33,583.78 L480,584.07 L480.67,584.43 L481.33,584.91 L482,585.45 L482.85,585.32 L483.7,585.8 L483.7,585.8 Z" fill="#f4837a" fill-opacity="0.95" stroke="#bd3b3b" stroke-width="0.65" stroke-dasharray="0.8,0.5"/>
<line x1="401.7" y1="490.7" x2="401.7" y2="586.2" stroke="#8c8c8c" stroke-width="0.9" />
<line x1="401.3" y1="585.8" x2="498.7" y2="585.8" stroke="#8c8c8c" stroke-width="0.9" />
<line x1="399.4" y1="585.8" x2="401.7" y2="585.8" stroke="#555" stroke-width="0.9" />
<text x="396.7" y="588.1" font-size="6.7" text-anchor="end" fill="#252525" font-weight="normal" >0</text>
<line x1="399.4" y1="554.1" x2="401.7" y2="554.1" stroke="#555" stroke-width="0.9" />
<text x="396.7" y="556.4" font-size="6.7" text-anchor="end" fill="#252525" font-weight="normal" >20</text>
<line x1="399.4" y1="522.4" x2="401.7" y2="522.4" stroke="#555" stroke-width="0.9" />
<text x="396.7" y="524.7" font-size="6.7" text-anchor="end" fill="#252525" font-weight="normal" >40</text>
<line x1="399.4" y1="490.7" x2="401.7" y2="490.7" stroke="#555" stroke-width="0.9" />
<text x="396.7" y="493" font-size="6.7" text-anchor="end" fill="#252525" font-weight="normal" >60</text>
<line x1="400.4" y1="569.95" x2="401.7" y2="569.95" stroke="#777" stroke-width="0.7" />
<line x1="400.4" y1="554.1" x2="401.7" y2="554.1" stroke="#777" stroke-width="0.7" />
<line x1="400.4" y1="538.25" x2="401.7" y2="538.25" stroke="#777" stroke-width="0.7" />
<line x1="400.4" y1="522.4" x2="401.7" y2="522.4" stroke="#777" stroke-width="0.7" />
<line x1="400.4" y1="506.55" x2="401.7" y2="506.55" stroke="#777" stroke-width="0.7" />
<line x1="406.8" y1="585.8" x2="406.8" y2="587.8" stroke="#555" stroke-width="0.9" />
<text x="406.8" y="596.7" font-size="6.6" text-anchor="middle" fill="#252525">10<tspan font-size="4.4" dy="-2.7">-4</tspan></text>
<line x1="427" y1="585.8" x2="427" y2="587.8" stroke="#555" stroke-width="0.9" />
<text x="427" y="596.7" font-size="6.6" text-anchor="middle" fill="#252525">10<tspan font-size="4.4" dy="-2.7">-2</tspan></text>
<line x1="443.6" y1="585.8" x2="443.6" y2="587.8" stroke="#555" stroke-width="0.9" />
<text x="443.6" y="596.7" font-size="6.6" text-anchor="middle" fill="#252525">10<tspan font-size="4.4" dy="-2.7">0</tspan></text>
<line x1="461.4" y1="585.8" x2="461.4" y2="587.8" stroke="#555" stroke-width="0.9" />
<text x="461.4" y="596.7" font-size="6.6" text-anchor="middle" fill="#252525">10<tspan font-size="4.4" dy="-2.7">2</tspan></text>
<line x1="480.4" y1="585.8" x2="480.4" y2="587.8" stroke="#555" stroke-width="0.9" />
<text x="480.4" y="596.7" font-size="6.6" text-anchor="middle" fill="#252525">10<tspan font-size="4.4" dy="-2.7">4</tspan></text>
<line x1="496.8" y1="585.8" x2="496.8" y2="587.8" stroke="#555" stroke-width="0.9" />
<text x="496.8" y="596.7" font-size="6.6" text-anchor="middle" fill="#252525">10<tspan font-size="4.4" dy="-2.7">6</tspan></text>
<text x="450.2" y="608.6" font-size="8.2" text-anchor="middle" fill="#252525" textLength="59" lengthAdjust="spacingAndGlyphs">Comp-V450-A :: CTV</text>
<text transform="translate(385.1,538.25) rotate(-90)" font-size="8.3" text-anchor="middle" fill="#252525" textLength="19" lengthAdjust="spacingAndGlyphs">Count</text>
<line x1="401.7" y1="490.7" x2="498.7" y2="490.7" stroke="#8a8a8a" stroke-width="0.9" />
<line x1="498.7" y1="490.7" x2="498.7" y2="585.8" stroke="#8a8a8a" stroke-width="0.9" />
<defs><linearGradient id="wg" x1="0" x2="1" y1="0" y2="0">
<stop offset="0" stop-color="#62bb6a"/><stop offset="0.6" stop-color="#6ab86a"/><stop offset="0.8" stop-color="#b8946f"/><stop offset="1" stop-color="#ec7a72"/></linearGradient></defs>
<path d="M150.4,625 L162.7,619 L225,619.7 L290,622.4 L369.6,625.5 L290,628 L225,629.7 L162.7,631.2 Z" fill="url(#wg)" stroke="#e88a76" stroke-width="1.0" stroke-linejoin="round"/>
<text x="258.9" y="643.6" font-size="7.8" text-anchor="middle" fill="#252525" textLength="67" lengthAdjust="spacingAndGlyphs">Degree of proliferation</text>
<rect x="296" y="651.2" width="7.6" height="8" fill="#3d5da6" stroke="#2a3a6a" stroke-width="0.6"/>
<rect x="296" y="662.7" width="7.6" height="7.7" fill="#df3f48" stroke="#a03040" stroke-width="0.6"/>
<text x="307" y="657.9" font-size="6.9" fill="#252525" textLength="190" lengthAdjust="spacingAndGlyphs">Healthy Donor’s Vδ2<tspan font-size="4.8" dy="-2.4">+</tspan><tspan dy="2.4"> in ZOL stim. hemochromatosis PBMCs d7</tspan></text>
<text x="307" y="669.3" font-size="6.9" fill="#252525" textLength="193" lengthAdjust="spacingAndGlyphs">Hemochromatosis Donor’s Vδ2<tspan font-size="4.8" dy="-2.4">+</tspan><tspan dy="2.4"> in autologous ZOL stim. PBMCs d7</tspan></text>
<rect x="0.5" y="0.5" width="519" height="677" fill="none" stroke="#4a4a4a" stroke-width="1"/>
</svg>
</body></html>
